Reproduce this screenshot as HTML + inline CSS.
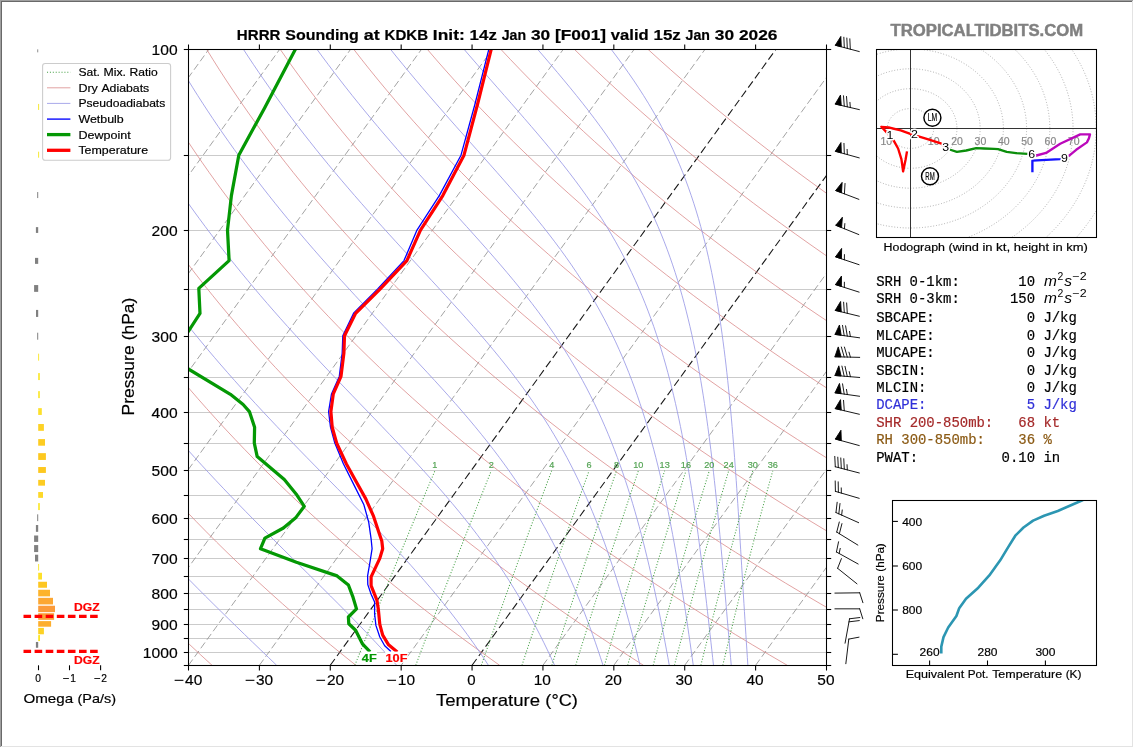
<!DOCTYPE html>
<html lang="en"><head><meta charset="utf-8"><title>HRRR Sounding at KDKB</title>
<style>html,body{margin:0;padding:0;background:#fff;}body{width:1134px;height:748px;overflow:hidden;font-family:"Liberation Sans",sans-serif;}svg{display:block;will-change:transform;}</style></head>
<body>
<svg width="1134" height="748" viewBox="0 0 1134 748" font-family="Liberation Sans, sans-serif">
<rect width="1134" height="748" fill="#fff"/>
<rect x="0" y="0" width="1133" height="1" fill="#a0a0a0"/><rect x="0" y="0" width="1" height="747" fill="#a0a0a0"/>
<rect x="1" y="1" width="1131" height="1" fill="#696969"/><rect x="1" y="1" width="1" height="745" fill="#696969"/>
<rect x="1132" y="1" width="1" height="746" fill="#e3e3e3"/><rect x="1" y="746" width="1132" height="1" fill="#e3e3e3"/>
<defs><clipPath id="ca"><rect x="188.5" y="49.5" width="638.0" height="616"/></clipPath><clipPath id="ch"><rect x="876.5" y="49.5" width="220" height="188"/></clipPath><clipPath id="ct"><rect x="892.5" y="500.5" width="204" height="165"/></clipPath></defs>
<g clip-path="url(#ca)">
<line x1="188.5" y1="155.5" x2="826.5" y2="155.5" stroke="#cbcbcb" stroke-width="1"/>
<line x1="188.5" y1="230.5" x2="826.5" y2="230.5" stroke="#cbcbcb" stroke-width="1"/>
<line x1="188.5" y1="289.5" x2="826.5" y2="289.5" stroke="#cbcbcb" stroke-width="1"/>
<line x1="188.5" y1="336.5" x2="826.5" y2="336.5" stroke="#cbcbcb" stroke-width="1"/>
<line x1="188.5" y1="377.5" x2="826.5" y2="377.5" stroke="#cbcbcb" stroke-width="1"/>
<line x1="188.5" y1="412.5" x2="826.5" y2="412.5" stroke="#cbcbcb" stroke-width="1"/>
<line x1="188.5" y1="443.5" x2="826.5" y2="443.5" stroke="#cbcbcb" stroke-width="1"/>
<line x1="188.5" y1="470.5" x2="826.5" y2="470.5" stroke="#cbcbcb" stroke-width="1"/>
<line x1="188.5" y1="495.5" x2="826.5" y2="495.5" stroke="#cbcbcb" stroke-width="1"/>
<line x1="188.5" y1="518.5" x2="826.5" y2="518.5" stroke="#cbcbcb" stroke-width="1"/>
<line x1="188.5" y1="539.5" x2="826.5" y2="539.5" stroke="#cbcbcb" stroke-width="1"/>
<line x1="188.5" y1="558.5" x2="826.5" y2="558.5" stroke="#cbcbcb" stroke-width="1"/>
<line x1="188.5" y1="576.5" x2="826.5" y2="576.5" stroke="#cbcbcb" stroke-width="1"/>
<line x1="188.5" y1="593.5" x2="826.5" y2="593.5" stroke="#cbcbcb" stroke-width="1"/>
<line x1="188.5" y1="609.5" x2="826.5" y2="609.5" stroke="#cbcbcb" stroke-width="1"/>
<line x1="188.5" y1="624.5" x2="826.5" y2="624.5" stroke="#cbcbcb" stroke-width="1"/>
<line x1="188.5" y1="638.5" x2="826.5" y2="638.5" stroke="#cbcbcb" stroke-width="1"/>
<line x1="188.5" y1="652.5" x2="826.5" y2="652.5" stroke="#cbcbcb" stroke-width="1"/>
<line x1="-307.72" y1="665.3" x2="137.95" y2="49.3" stroke="#8c8c8c" stroke-width="0.8" stroke-dasharray="7.2 3.3"/>
<line x1="-236.83" y1="665.3" x2="208.84" y2="49.3" stroke="#8c8c8c" stroke-width="0.8" stroke-dasharray="7.2 3.3"/>
<line x1="-165.94" y1="665.3" x2="279.73" y2="49.3" stroke="#8c8c8c" stroke-width="0.8" stroke-dasharray="7.2 3.3"/>
<line x1="-95.06" y1="665.3" x2="350.62" y2="49.3" stroke="#8c8c8c" stroke-width="0.8" stroke-dasharray="7.2 3.3"/>
<line x1="-24.17" y1="665.3" x2="421.51" y2="49.3" stroke="#8c8c8c" stroke-width="0.8" stroke-dasharray="7.2 3.3"/>
<line x1="46.72" y1="665.3" x2="492.4" y2="49.3" stroke="#8c8c8c" stroke-width="0.8" stroke-dasharray="7.2 3.3"/>
<line x1="117.61" y1="665.3" x2="563.29" y2="49.3" stroke="#8c8c8c" stroke-width="0.8" stroke-dasharray="7.2 3.3"/>
<line x1="188.5" y1="665.3" x2="634.18" y2="49.3" stroke="#8c8c8c" stroke-width="0.8" stroke-dasharray="7.2 3.3"/>
<line x1="259.39" y1="665.3" x2="705.06" y2="49.3" stroke="#8c8c8c" stroke-width="0.8" stroke-dasharray="7.2 3.3"/>
<line x1="330.28" y1="665.3" x2="775.95" y2="49.3" stroke="#1a1a1a" stroke-width="1.1" stroke-dasharray="7.8 3.7"/>
<line x1="401.17" y1="665.3" x2="846.84" y2="49.3" stroke="#8c8c8c" stroke-width="0.8" stroke-dasharray="7.2 3.3"/>
<line x1="472.06" y1="665.3" x2="917.73" y2="49.3" stroke="#1a1a1a" stroke-width="1.1" stroke-dasharray="7.8 3.7"/>
<line x1="542.94" y1="665.3" x2="988.62" y2="49.3" stroke="#8c8c8c" stroke-width="0.8" stroke-dasharray="7.2 3.3"/>
<line x1="613.83" y1="665.3" x2="1059.51" y2="49.3" stroke="#8c8c8c" stroke-width="0.8" stroke-dasharray="7.2 3.3"/>
<line x1="684.72" y1="665.3" x2="1130.4" y2="49.3" stroke="#8c8c8c" stroke-width="0.8" stroke-dasharray="7.2 3.3"/>
<line x1="755.61" y1="665.3" x2="1201.29" y2="49.3" stroke="#8c8c8c" stroke-width="0.8" stroke-dasharray="7.2 3.3"/>
<line x1="826.5" y1="665.3" x2="1272.18" y2="49.3" stroke="#8c8c8c" stroke-width="0.8" stroke-dasharray="7.2 3.3"/>
<path d="M212.05 665.3 L200.85 655.03 L189.86 644.77 L179.08 634.5 L168.49 624.23 L158.11 613.97 L147.92 603.7 L137.93 593.43 L128.14 583.17 L118.53 572.9 L109.12 562.63 L99.89 552.37 L90.84 542.1 L81.98 531.83 L73.3 521.57 L64.8 511.3 L56.48 501.03 L48.33 490.77 L40.36 480.5 L32.55 470.23 L24.92 459.97 L17.45 449.7 L10.15 439.43 L3.01 429.17 L-3.97 418.9 L-10.78 408.63 L-17.44 398.37 L-23.95 388.1 L-30.29 377.83 L-36.49 367.57 L-42.53 357.3 L-48.42 347.03 L-54.17 336.77 L-59.77 326.5 L-65.22 316.23 L-70.53 305.97 L-75.7 295.7 L-80.73 285.43 L-85.62 275.17 L-90.37 264.9 L-94.99 254.63 L-99.48 244.37 L-103.83 234.1 L-108.05 223.83 L-112.14 213.57 L-116.11 203.3 L-119.94 193.03 L-123.66 182.77 L-127.25 172.5 L-130.71 162.23 L-134.06 151.97 L-137.28 141.7 L-140.39 131.43 L-143.38 121.17 L-146.25 110.9 L-149.01 100.63 L-151.66 90.37 L-154.19 80.1 L-156.62 69.83 L-158.93 59.57 L-161.14 49.3" stroke="#d88484" stroke-width="0.75" fill="none"/>
<path d="M355.85 665.3 L343.05 655.03 L330.48 644.77 L318.13 634.5 L306 624.23 L294.09 613.97 L282.4 603.7 L270.91 593.43 L259.64 583.17 L248.57 572.9 L237.71 562.63 L227.05 552.37 L216.6 542.1 L206.34 531.83 L196.28 521.57 L186.41 511.3 L176.74 501.03 L167.25 490.77 L157.96 480.5 L148.85 470.23 L139.92 459.97 L131.17 449.7 L122.61 439.43 L114.22 429.17 L106.01 418.9 L97.97 408.63 L90.1 398.37 L82.4 388.1 L74.88 377.83 L67.51 367.57 L60.32 357.3 L53.28 347.03 L46.4 336.77 L39.69 326.5 L33.13 316.23 L26.73 305.97 L20.48 295.7 L14.38 285.43 L8.43 275.17 L2.63 264.9 L-3.02 254.63 L-8.53 244.37 L-13.89 234.1 L-19.11 223.83 L-24.19 213.57 L-29.13 203.3 L-33.94 193.03 L-38.6 182.77 L-43.14 172.5 L-47.54 162.23 L-51.81 151.97 L-55.95 141.7 L-59.96 131.43 L-63.84 121.17 L-67.6 110.9 L-71.23 100.63 L-74.74 90.37 L-78.13 80.1 L-81.4 69.83 L-84.55 59.57 L-87.58 49.3" stroke="#d88484" stroke-width="0.75" fill="none"/>
<path d="M499.64 665.3 L485.25 655.03 L471.1 644.77 L457.19 634.5 L443.52 624.23 L430.08 613.97 L416.87 603.7 L403.89 593.43 L391.14 583.17 L378.61 572.9 L366.31 562.63 L354.22 552.37 L342.35 542.1 L330.7 531.83 L319.26 521.57 L308.02 511.3 L297 501.03 L286.18 490.77 L275.56 480.5 L265.14 470.23 L254.92 459.97 L244.9 449.7 L235.07 439.43 L225.43 429.17 L215.98 418.9 L206.72 408.63 L197.65 398.37 L188.75 388.1 L180.04 377.83 L171.51 367.57 L163.16 357.3 L154.98 347.03 L146.98 336.77 L139.14 326.5 L131.48 316.23 L123.98 305.97 L116.65 295.7 L109.49 285.43 L102.48 275.17 L95.64 264.9 L88.95 254.63 L82.42 244.37 L76.05 234.1 L69.83 223.83 L63.76 213.57 L57.84 203.3 L52.07 193.03 L46.45 182.77 L40.97 172.5 L35.64 162.23 L30.44 151.97 L25.39 141.7 L20.47 131.43 L15.7 121.17 L11.06 110.9 L6.55 100.63 L2.17 90.37 L-2.07 80.1 L-6.19 69.83 L-10.17 59.57 L-14.03 49.3" stroke="#d88484" stroke-width="0.75" fill="none"/>
<path d="M643.44 665.3 L627.45 655.03 L611.72 644.77 L596.25 634.5 L581.03 624.23 L566.06 613.97 L551.34 603.7 L536.87 593.43 L522.64 583.17 L508.66 572.9 L494.9 562.63 L481.39 552.37 L468.11 542.1 L455.06 531.83 L442.23 521.57 L429.63 511.3 L417.25 501.03 L405.1 490.77 L393.16 480.5 L381.43 470.23 L369.92 459.97 L358.62 449.7 L347.53 439.43 L336.64 429.17 L325.96 418.9 L315.47 408.63 L305.19 398.37 L295.1 388.1 L285.21 377.83 L275.51 367.57 L266 357.3 L256.68 347.03 L247.55 336.77 L238.6 326.5 L229.83 316.23 L221.24 305.97 L212.83 295.7 L204.59 285.43 L196.53 275.17 L188.64 264.9 L180.92 254.63 L173.37 244.37 L165.99 234.1 L158.77 223.83 L151.71 213.57 L144.82 203.3 L138.08 193.03 L131.5 182.77 L125.08 172.5 L118.81 162.23 L112.69 151.97 L106.72 141.7 L100.91 131.43 L95.24 121.17 L89.71 110.9 L84.33 100.63 L79.09 90.37 L73.99 80.1 L69.03 69.83 L64.21 59.57 L59.52 49.3" stroke="#d88484" stroke-width="0.75" fill="none"/>
<path d="M787.24 665.3 L769.65 655.03 L752.34 644.77 L735.31 634.5 L718.54 624.23 L702.05 613.97 L685.82 603.7 L669.85 593.43 L654.15 583.17 L638.7 572.9 L623.5 562.63 L608.56 552.37 L593.86 542.1 L579.41 531.83 L565.21 521.57 L551.24 511.3 L537.51 501.03 L524.02 490.77 L510.76 480.5 L497.73 470.23 L484.92 459.97 L472.34 449.7 L459.99 439.43 L447.85 429.17 L435.93 418.9 L424.23 408.63 L412.74 398.37 L401.45 388.1 L390.38 377.83 L379.51 367.57 L368.85 357.3 L358.38 347.03 L348.12 336.77 L338.05 326.5 L328.18 316.23 L318.5 305.97 L309 295.7 L299.7 285.43 L290.58 275.17 L281.65 264.9 L272.9 254.63 L264.32 244.37 L255.93 234.1 L247.71 223.83 L239.67 213.57 L231.79 203.3 L224.09 193.03 L216.56 182.77 L209.19 172.5 L201.98 162.23 L194.94 151.97 L188.06 141.7 L181.34 131.43 L174.77 121.17 L168.36 110.9 L162.11 100.63 L156.01 90.37 L150.05 80.1 L144.25 69.83 L138.59 59.57 L133.08 49.3" stroke="#d88484" stroke-width="0.75" fill="none"/>
<path d="M931.04 665.3 L911.85 655.03 L892.96 644.77 L874.36 634.5 L856.06 624.23 L838.03 613.97 L820.29 603.7 L802.83 593.43 L785.65 583.17 L768.74 572.9 L752.1 562.63 L735.72 552.37 L719.62 542.1 L703.77 531.83 L688.18 521.57 L672.85 511.3 L657.77 501.03 L642.94 490.77 L628.36 480.5 L614.02 470.23 L599.93 459.97 L586.07 449.7 L572.45 439.43 L559.06 429.17 L545.91 418.9 L532.98 408.63 L520.28 398.37 L507.8 388.1 L495.55 377.83 L483.51 367.57 L471.69 357.3 L460.09 347.03 L448.69 336.77 L437.51 326.5 L426.53 316.23 L415.75 305.97 L405.18 295.7 L394.81 285.43 L384.63 275.17 L374.65 264.9 L364.87 254.63 L355.27 244.37 L345.87 234.1 L336.65 223.83 L327.62 213.57 L318.77 203.3 L310.1 193.03 L301.61 182.77 L293.29 172.5 L285.16 162.23 L277.19 151.97 L269.4 141.7 L261.77 131.43 L254.31 121.17 L247.02 110.9 L239.89 100.63 L232.92 90.37 L226.11 80.1 L219.46 69.83 L212.97 59.57 L206.63 49.3" stroke="#d88484" stroke-width="0.75" fill="none"/>
<path d="M1074.84 665.3 L1054.05 655.03 L1033.58 644.77 L1013.42 634.5 L993.57 624.23 L974.02 613.97 L954.77 603.7 L935.81 593.43 L917.15 583.17 L898.78 572.9 L880.69 562.63 L862.89 552.37 L845.37 542.1 L828.13 531.83 L811.16 521.57 L794.46 511.3 L778.03 501.03 L761.86 490.77 L745.96 480.5 L730.31 470.23 L714.93 459.97 L699.79 449.7 L684.91 439.43 L670.27 429.17 L655.88 418.9 L641.73 408.63 L627.83 398.37 L614.15 388.1 L600.72 377.83 L587.51 367.57 L574.54 357.3 L561.79 347.03 L549.26 336.77 L536.96 326.5 L524.88 316.23 L513.01 305.97 L501.36 295.7 L489.91 285.43 L478.68 275.17 L467.66 264.9 L456.84 254.63 L446.22 244.37 L435.81 234.1 L425.59 223.83 L415.57 213.57 L405.74 203.3 L396.11 193.03 L386.66 182.77 L377.4 172.5 L368.33 162.23 L359.44 151.97 L350.73 141.7 L342.2 131.43 L333.85 121.17 L325.67 110.9 L317.67 100.63 L309.84 90.37 L302.18 80.1 L294.68 69.83 L287.35 59.57 L280.19 49.3" stroke="#d88484" stroke-width="0.75" fill="none"/>
<path d="M1218.63 665.3 L1196.25 655.03 L1174.2 644.77 L1152.48 634.5 L1131.08 624.23 L1110 613.97 L1089.24 603.7 L1068.79 593.43 L1048.65 583.17 L1028.82 572.9 L1009.29 562.63 L990.06 552.37 L971.13 542.1 L952.48 531.83 L934.13 521.57 L916.07 511.3 L898.29 501.03 L880.78 490.77 L863.56 480.5 L846.61 470.23 L829.93 459.97 L813.52 449.7 L797.37 439.43 L781.48 429.17 L765.86 418.9 L750.49 408.63 L735.37 398.37 L720.5 388.1 L705.89 377.83 L691.51 367.57 L677.38 357.3 L663.49 347.03 L649.83 336.77 L636.41 326.5 L623.22 316.23 L610.26 305.97 L597.53 295.7 L585.02 285.43 L572.73 275.17 L560.67 264.9 L548.81 254.63 L537.17 244.37 L525.75 234.1 L514.53 223.83 L503.52 213.57 L492.72 203.3 L482.12 193.03 L471.71 182.77 L461.51 172.5 L451.5 162.23 L441.69 151.97 L432.07 141.7 L422.63 131.43 L413.39 121.17 L404.33 110.9 L395.45 100.63 L386.75 90.37 L378.24 80.1 L369.9 69.83 L361.73 59.57 L353.74 49.3" stroke="#d88484" stroke-width="0.75" fill="none"/>
<path d="M1362.43 665.3 L1338.45 655.03 L1314.82 644.77 L1291.54 634.5 L1268.59 624.23 L1245.99 613.97 L1223.71 603.7 L1201.77 593.43 L1180.15 583.17 L1158.86 572.9 L1137.89 562.63 L1117.23 552.37 L1096.88 542.1 L1076.84 531.83 L1057.11 521.57 L1037.68 511.3 L1018.54 501.03 L999.71 490.77 L981.16 480.5 L962.9 470.23 L944.93 459.97 L927.24 449.7 L909.83 439.43 L892.7 429.17 L875.83 418.9 L859.24 408.63 L842.92 398.37 L826.85 388.1 L811.05 377.83 L795.51 367.57 L780.23 357.3 L765.19 347.03 L750.41 336.77 L735.87 326.5 L721.57 316.23 L707.52 305.97 L693.71 295.7 L680.13 285.43 L666.78 275.17 L653.67 264.9 L640.79 254.63 L628.13 244.37 L615.69 234.1 L603.47 223.83 L591.47 213.57 L579.69 203.3 L568.12 193.03 L556.77 182.77 L545.62 172.5 L534.68 162.23 L523.94 151.97 L513.4 141.7 L503.06 131.43 L492.93 121.17 L482.98 110.9 L473.23 100.63 L463.67 90.37 L454.3 80.1 L445.11 69.83 L436.11 59.57 L427.3 49.3" stroke="#d88484" stroke-width="0.75" fill="none"/>
<path d="M1506.23 665.3 L1480.65 655.03 L1455.44 644.77 L1430.6 634.5 L1406.11 624.23 L1381.97 613.97 L1358.19 603.7 L1334.75 593.43 L1311.66 583.17 L1288.9 572.9 L1266.48 562.63 L1244.39 552.37 L1222.63 542.1 L1201.2 531.83 L1180.08 521.57 L1159.29 511.3 L1138.8 501.03 L1118.63 490.77 L1098.76 480.5 L1079.2 470.23 L1059.93 459.97 L1040.96 449.7 L1022.29 439.43 L1003.91 429.17 L985.81 418.9 L967.99 408.63 L950.46 398.37 L933.21 388.1 L916.22 377.83 L899.51 367.57 L883.07 357.3 L866.89 347.03 L850.98 336.77 L835.32 326.5 L819.92 316.23 L804.78 305.97 L789.88 295.7 L775.24 285.43 L760.84 275.17 L746.68 264.9 L732.76 254.63 L719.08 244.37 L705.63 234.1 L692.41 223.83 L679.43 213.57 L666.67 203.3 L654.13 193.03 L641.82 182.77 L629.73 172.5 L617.85 162.23 L606.19 151.97 L594.74 141.7 L583.5 131.43 L572.46 121.17 L561.64 110.9 L551.01 100.63 L540.59 90.37 L530.36 80.1 L520.33 69.83 L510.49 59.57 L500.85 49.3" stroke="#d88484" stroke-width="0.75" fill="none"/>
<path d="M1650.03 665.3 L1622.85 655.03 L1596.06 644.77 L1569.65 634.5 L1543.62 624.23 L1517.96 613.97 L1492.66 603.7 L1467.73 593.43 L1443.16 583.17 L1418.94 572.9 L1395.08 562.63 L1371.56 552.37 L1348.39 542.1 L1325.56 531.83 L1303.06 521.57 L1280.9 511.3 L1259.06 501.03 L1237.55 490.77 L1216.36 480.5 L1195.49 470.23 L1174.93 459.97 L1154.69 449.7 L1134.75 439.43 L1115.12 429.17 L1095.78 418.9 L1076.75 408.63 L1058.01 398.37 L1039.56 388.1 L1021.39 377.83 L1003.51 367.57 L985.91 357.3 L968.59 347.03 L951.55 336.77 L934.78 326.5 L918.27 316.23 L902.03 305.97 L886.06 295.7 L870.34 285.43 L854.89 275.17 L839.68 264.9 L824.73 254.63 L810.03 244.37 L795.57 234.1 L781.35 223.83 L767.38 213.57 L753.64 203.3 L740.14 193.03 L726.87 182.77 L713.83 172.5 L701.02 162.23 L688.44 151.97 L676.07 141.7 L663.93 131.43 L652 121.17 L640.29 110.9 L628.79 100.63 L617.5 90.37 L606.42 80.1 L595.55 69.83 L584.87 59.57 L574.4 49.3" stroke="#d88484" stroke-width="0.75" fill="none"/>
<path d="M1793.83 665.3 L1765.05 655.03 L1736.68 644.77 L1708.71 634.5 L1681.13 624.23 L1653.94 613.97 L1627.14 603.7 L1600.71 593.43 L1574.66 583.17 L1548.98 572.9 L1523.68 562.63 L1498.73 552.37 L1474.14 542.1 L1449.91 531.83 L1426.04 521.57 L1402.5 511.3 L1379.32 501.03 L1356.47 490.77 L1333.96 480.5 L1311.78 470.23 L1289.94 459.97 L1268.41 449.7 L1247.21 439.43 L1226.33 429.17 L1205.76 418.9 L1185.5 408.63 L1165.55 398.37 L1145.91 388.1 L1126.56 377.83 L1107.51 367.57 L1088.76 357.3 L1070.3 347.03 L1052.12 336.77 L1034.23 326.5 L1016.62 316.23 L999.29 305.97 L982.23 295.7 L965.45 285.43 L948.94 275.17 L932.69 264.9 L916.7 254.63 L900.98 244.37 L885.51 234.1 L870.29 223.83 L855.33 213.57 L840.62 203.3 L826.15 193.03 L811.93 182.77 L797.94 172.5 L784.2 162.23 L770.69 151.97 L757.41 141.7 L744.36 131.43 L731.54 121.17 L718.94 110.9 L706.57 100.63 L694.42 90.37 L682.48 80.1 L670.76 69.83 L659.26 59.57 L647.96 49.3" stroke="#d88484" stroke-width="0.75" fill="none"/>
<path d="M-124.36 49.3 L-122.41 57 L-120.39 64.7 L-118.31 72.4 L-116.16 80.1 L-113.95 87.8 L-111.68 95.5 L-109.34 103.2 L-106.93 110.9 L-104.45 118.6 L-101.91 126.3 L-99.3 134 L-96.62 141.7 L-93.87 149.4 L-91.05 157.1 L-88.16 164.8 L-85.2 172.5 L-82.16 180.2 L-79.06 187.9 L-75.88 195.6 L-72.63 203.3 L-69.3 211 L-65.9 218.7 L-62.42 226.4 L-58.87 234.1 L-55.24 241.8 L-51.53 249.5 L-47.75 257.2 L-43.88 264.9 L-39.94 272.6 L-35.91 280.3 L-31.81 288 L-27.62 295.7 L-23.36 303.4 L-19.01 311.1 L-14.57 318.8 L-10.05 326.5 L-5.45 334.2 L-0.76 341.9 L4.01 349.6 L8.87 357.3 L13.82 365 L18.86 372.7 L23.99 380.4 L29.2 388.1 L34.51 395.8 L39.91 403.5 L45.4 411.2 L50.98 418.9 L56.66 426.6 L62.43 434.3 L68.29 442 L74.25 449.7 L80.3 457.4 L86.45 465.1 L92.7 472.8 L99.04 480.5 L105.48 488.2 L112.01 495.9 L118.64 503.6 L125.37 511.3 L132.19 519 L139.11 526.7 L146.12 534.4 L153.22 542.1 L160.42 549.8 L167.7 557.5 L175.07 565.2 L182.52 572.9 L190.06 580.6 L197.67 588.3 L205.35 596 L213.1 603.7 L220.91 611.4 L228.78 619.1 L236.69 626.8 L244.64 634.5 L252.62 642.2 L260.62 649.9 L268.64 657.6 L276.65 665.3" stroke="#9a9ae6" stroke-width="0.85" fill="none"/>
<path d="M-50.81 49.3 L-48.23 57 L-45.59 64.7 L-42.88 72.4 L-40.1 80.1 L-37.25 87.8 L-34.33 95.5 L-31.34 103.2 L-28.27 110.9 L-25.14 118.6 L-21.93 126.3 L-18.64 134 L-15.28 141.7 L-11.85 149.4 L-8.34 157.1 L-4.75 164.8 L-1.09 172.5 L2.65 180.2 L6.47 187.9 L10.37 195.6 L14.35 203.3 L18.41 211 L22.55 218.7 L26.77 226.4 L31.07 234.1 L35.46 241.8 L39.93 249.5 L44.48 257.2 L49.12 264.9 L53.85 272.6 L58.66 280.3 L63.56 288 L68.55 295.7 L73.62 303.4 L78.79 311.1 L84.04 318.8 L89.39 326.5 L94.83 334.2 L100.36 341.9 L105.98 349.6 L111.69 357.3 L117.5 365 L123.4 372.7 L129.4 380.4 L135.49 388.1 L141.68 395.8 L147.96 403.5 L154.34 411.2 L160.81 418.9 L167.38 426.6 L174.04 434.3 L180.79 442 L187.64 449.7 L194.58 457.4 L201.6 465.1 L208.72 472.8 L215.92 480.5 L223.2 488.2 L230.56 495.9 L238 503.6 L245.5 511.3 L253.07 519 L260.69 526.7 L268.36 534.4 L276.08 542.1 L283.83 549.8 L291.61 557.5 L299.4 565.2 L307.19 572.9 L314.98 580.6 L322.74 588.3 L330.48 596 L338.17 603.7 L345.8 611.4 L353.36 619.1 L360.85 626.8 L368.24 634.5 L375.53 642.2 L382.71 649.9 L389.76 657.6 L396.69 665.3" stroke="#9a9ae6" stroke-width="0.85" fill="none"/>
<path d="M22.75 49.3 L25.94 57 L29.2 64.7 L32.54 72.4 L35.96 80.1 L39.45 87.8 L43.01 95.5 L46.66 103.2 L50.38 110.9 L54.18 118.6 L58.06 126.3 L62.01 134 L66.05 141.7 L70.17 149.4 L74.37 157.1 L78.65 164.8 L83.02 172.5 L87.47 180.2 L92 187.9 L96.62 195.6 L101.32 203.3 L106.11 211 L110.99 218.7 L115.95 226.4 L121 234.1 L126.15 241.8 L131.38 249.5 L136.7 257.2 L142.11 264.9 L147.62 272.6 L153.21 280.3 L158.9 288 L164.68 295.7 L170.56 303.4 L176.53 311.1 L182.59 318.8 L188.75 326.5 L195 334.2 L201.35 341.9 L207.79 349.6 L214.32 357.3 L220.94 365 L227.66 372.7 L234.46 380.4 L241.35 388.1 L248.33 395.8 L255.39 403.5 L262.53 411.2 L269.75 418.9 L277.03 426.6 L284.39 434.3 L291.8 442 L299.26 449.7 L306.77 457.4 L314.32 465.1 L321.9 472.8 L329.49 480.5 L337.09 488.2 L344.68 495.9 L352.26 503.6 L359.8 511.3 L367.31 519 L374.76 526.7 L382.14 534.4 L389.44 542.1 L396.64 549.8 L403.74 557.5 L410.73 565.2 L417.59 572.9 L424.32 580.6 L430.91 588.3 L437.35 596 L443.65 603.7 L449.79 611.4 L455.77 619.1 L461.6 626.8 L467.28 634.5 L472.79 642.2 L478.16 649.9 L483.37 657.6 L488.44 665.3" stroke="#9a9ae6" stroke-width="0.85" fill="none"/>
<path d="M96.3 49.3 L100.11 57 L104 64.7 L107.97 72.4 L112.02 80.1 L116.15 87.8 L120.36 95.5 L124.66 103.2 L129.03 110.9 L133.49 118.6 L138.04 126.3 L142.67 134 L147.38 141.7 L152.19 149.4 L157.08 157.1 L162.05 164.8 L167.12 172.5 L172.27 180.2 L177.52 187.9 L182.85 195.6 L188.28 203.3 L193.79 211 L199.4 218.7 L205.1 226.4 L210.89 234.1 L216.78 241.8 L222.76 249.5 L228.83 257.2 L235 264.9 L241.26 272.6 L247.61 280.3 L254.05 288 L260.58 295.7 L267.2 303.4 L273.91 311.1 L280.71 318.8 L287.58 326.5 L294.54 334.2 L301.58 341.9 L308.68 349.6 L315.85 357.3 L323.08 365 L330.37 372.7 L337.7 380.4 L345.07 388.1 L352.47 395.8 L359.89 403.5 L367.32 411.2 L374.74 418.9 L382.14 426.6 L389.51 434.3 L396.84 442 L404.11 449.7 L411.31 457.4 L418.43 465.1 L425.45 472.8 L432.37 480.5 L439.16 488.2 L445.83 495.9 L452.36 503.6 L458.74 511.3 L464.97 519 L471.05 526.7 L476.96 534.4 L482.72 542.1 L488.31 549.8 L493.74 557.5 L499.01 565.2 L504.12 572.9 L509.08 580.6 L513.88 588.3 L518.54 596 L523.05 603.7 L527.42 611.4 L531.66 619.1 L535.77 626.8 L539.75 634.5 L543.62 642.2 L547.37 649.9 L551.01 657.6 L554.55 665.3" stroke="#9a9ae6" stroke-width="0.85" fill="none"/>
<path d="M169.86 49.3 L174.28 57 L178.8 64.7 L183.4 72.4 L188.08 80.1 L192.85 87.8 L197.7 95.5 L202.65 103.2 L207.68 110.9 L212.8 118.6 L218.01 126.3 L223.31 134 L228.7 141.7 L234.18 149.4 L239.75 157.1 L245.42 164.8 L251.17 172.5 L257.02 180.2 L262.96 187.9 L268.99 195.6 L275.12 203.3 L281.33 211 L287.64 218.7 L294.03 226.4 L300.52 234.1 L307.09 241.8 L313.75 249.5 L320.49 257.2 L327.3 264.9 L334.2 272.6 L341.16 280.3 L348.19 288 L355.28 295.7 L362.42 303.4 L369.6 311.1 L376.82 318.8 L384.07 326.5 L391.33 334.2 L398.6 341.9 L405.86 349.6 L413.1 357.3 L420.3 365 L427.46 372.7 L434.55 380.4 L441.57 388.1 L448.5 395.8 L455.32 403.5 L462.03 411.2 L468.61 418.9 L475.05 426.6 L481.35 434.3 L487.5 442 L493.49 449.7 L499.32 457.4 L504.98 465.1 L510.48 472.8 L515.8 480.5 L520.96 488.2 L525.96 495.9 L530.79 503.6 L535.47 511.3 L539.98 519 L544.35 526.7 L548.57 534.4 L552.65 542.1 L556.6 549.8 L560.41 557.5 L564.1 565.2 L567.67 572.9 L571.13 580.6 L574.47 588.3 L577.72 596 L580.86 603.7 L583.91 611.4 L586.87 619.1 L589.75 626.8 L592.55 634.5 L595.27 642.2 L597.92 649.9 L600.5 657.6 L603.02 665.3" stroke="#9a9ae6" stroke-width="0.85" fill="none"/>
<path d="M243.41 49.3 L248.46 57 L253.59 64.7 L258.81 72.4 L264.13 80.1 L269.53 87.8 L275.03 95.5 L280.61 103.2 L286.29 110.9 L292.06 118.6 L297.92 126.3 L303.87 134 L309.91 141.7 L316.04 149.4 L322.26 157.1 L328.57 164.8 L334.97 172.5 L341.45 180.2 L348.02 187.9 L354.66 195.6 L361.38 203.3 L368.18 211 L375.04 218.7 L381.97 226.4 L388.95 234.1 L395.97 241.8 L403.04 249.5 L410.14 257.2 L417.26 264.9 L424.38 272.6 L431.5 280.3 L438.61 288 L445.68 295.7 L452.71 303.4 L459.68 311.1 L466.57 318.8 L473.38 326.5 L480.08 334.2 L486.67 341.9 L493.14 349.6 L499.46 357.3 L505.64 365 L511.66 372.7 L517.52 380.4 L523.22 388.1 L528.74 395.8 L534.1 403.5 L539.28 411.2 L544.29 418.9 L549.13 426.6 L553.8 434.3 L558.31 442 L562.66 449.7 L566.85 457.4 L570.89 465.1 L574.78 472.8 L578.54 480.5 L582.16 488.2 L585.66 495.9 L589.03 503.6 L592.28 511.3 L595.42 519 L598.45 526.7 L601.38 534.4 L604.22 542.1 L606.97 549.8 L609.62 557.5 L612.2 565.2 L614.7 572.9 L617.12 580.6 L619.48 588.3 L621.77 596 L624 603.7 L626.17 611.4 L628.28 619.1 L630.35 626.8 L632.36 634.5 L634.33 642.2 L636.26 649.9 L638.15 657.6 L640 665.3" stroke="#9a9ae6" stroke-width="0.85" fill="none"/>
<path d="M316.96 49.3 L322.62 57 L328.36 64.7 L334.19 72.4 L340.12 80.1 L346.13 87.8 L352.23 95.5 L358.42 103.2 L364.7 110.9 L371.06 118.6 L377.51 126.3 L384.03 134 L390.63 141.7 L397.3 149.4 L404.04 157.1 L410.84 164.8 L417.7 172.5 L424.6 180.2 L431.54 187.9 L438.51 195.6 L445.5 203.3 L452.5 211 L459.49 218.7 L466.46 226.4 L473.39 234.1 L480.28 241.8 L487.11 249.5 L493.85 257.2 L500.51 264.9 L507.05 272.6 L513.48 280.3 L519.77 288 L525.92 295.7 L531.92 303.4 L537.76 311.1 L543.43 318.8 L548.93 326.5 L554.25 334.2 L559.4 341.9 L564.37 349.6 L569.16 357.3 L573.79 365 L578.24 372.7 L582.52 380.4 L586.64 388.1 L590.6 395.8 L594.41 403.5 L598.08 411.2 L601.6 418.9 L604.99 426.6 L608.25 434.3 L611.38 442 L614.4 449.7 L617.3 457.4 L620.1 465.1 L622.8 472.8 L625.4 480.5 L627.91 488.2 L630.33 495.9 L632.67 503.6 L634.93 511.3 L637.12 519 L639.25 526.7 L641.3 534.4 L643.3 542.1 L645.23 549.8 L647.11 557.5 L648.94 565.2 L650.73 572.9 L652.46 580.6 L654.16 588.3 L655.81 596 L657.43 603.7 L659.01 611.4 L660.56 619.1 L662.08 626.8 L663.57 634.5 L665.03 642.2 L666.47 649.9 L667.89 657.6 L669.29 665.3" stroke="#9a9ae6" stroke-width="0.85" fill="none"/>
<path d="M390.52 49.3 L396.73 57 L403.03 64.7 L409.41 72.4 L415.86 80.1 L422.39 87.8 L428.99 95.5 L435.65 103.2 L442.37 110.9 L449.14 118.6 L455.95 126.3 L462.79 134 L469.65 141.7 L476.53 149.4 L483.4 157.1 L490.26 164.8 L497.08 172.5 L503.87 180.2 L510.59 187.9 L517.24 195.6 L523.79 203.3 L530.24 211 L536.57 218.7 L542.77 226.4 L548.83 234.1 L554.73 241.8 L560.46 249.5 L566.03 257.2 L571.42 264.9 L576.64 272.6 L581.67 280.3 L586.52 288 L591.2 295.7 L595.69 303.4 L600.01 311.1 L604.16 318.8 L608.14 326.5 L611.96 334.2 L615.63 341.9 L619.14 349.6 L622.51 357.3 L625.74 365 L628.84 372.7 L631.81 380.4 L634.66 388.1 L637.4 395.8 L640.03 403.5 L642.55 411.2 L644.98 418.9 L647.31 426.6 L649.55 434.3 L651.71 442 L653.8 449.7 L655.8 457.4 L657.74 465.1 L659.61 472.8 L661.42 480.5 L663.17 488.2 L664.86 495.9 L666.5 503.6 L668.09 511.3 L669.64 519 L671.14 526.7 L672.6 534.4 L674.02 542.1 L675.4 549.8 L676.76 557.5 L678.08 565.2 L679.37 572.9 L680.63 580.6 L681.87 588.3 L683.09 596 L684.28 603.7 L685.46 611.4 L686.61 619.1 L687.75 626.8 L688.88 634.5 L689.99 642.2 L691.09 649.9 L692.18 657.6 L693.25 665.3" stroke="#9a9ae6" stroke-width="0.85" fill="none"/>
<path d="M464.07 49.3 L470.7 57 L477.37 64.7 L484.08 72.4 L490.82 80.1 L497.58 87.8 L504.34 95.5 L511.1 103.2 L517.83 110.9 L524.53 118.6 L531.18 126.3 L537.76 134 L544.26 141.7 L550.66 149.4 L556.95 157.1 L563.11 164.8 L569.13 172.5 L574.99 180.2 L580.7 187.9 L586.24 195.6 L591.6 203.3 L596.78 211 L601.77 218.7 L606.59 226.4 L611.21 234.1 L615.66 241.8 L619.92 249.5 L624.01 257.2 L627.93 264.9 L631.67 272.6 L635.26 280.3 L638.69 288 L641.97 295.7 L645.11 303.4 L648.11 311.1 L650.97 318.8 L653.72 326.5 L656.34 334.2 L658.85 341.9 L661.25 349.6 L663.55 357.3 L665.76 365 L667.87 372.7 L669.9 380.4 L671.84 388.1 L673.71 395.8 L675.5 403.5 L677.22 411.2 L678.88 418.9 L680.48 426.6 L682.02 434.3 L683.51 442 L684.94 449.7 L686.32 457.4 L687.66 465.1 L688.96 472.8 L690.22 480.5 L691.44 488.2 L692.62 495.9 L693.77 503.6 L694.89 511.3 L695.98 519 L697.05 526.7 L698.09 534.4 L699.11 542.1 L700.1 549.8 L701.08 557.5 L702.04 565.2 L702.98 572.9 L703.9 580.6 L704.82 588.3 L705.72 596 L706.61 603.7 L707.49 611.4 L708.36 619.1 L709.22 626.8 L710.08 634.5 L710.94 642.2 L711.79 649.9 L712.63 657.6 L713.48 665.3" stroke="#9a9ae6" stroke-width="0.85" fill="none"/>
<path d="M537.63 49.3 L544.25 57 L550.83 64.7 L557.36 72.4 L563.81 80.1 L570.18 87.8 L576.44 95.5 L582.58 103.2 L588.59 110.9 L594.46 118.6 L600.16 126.3 L605.7 134 L611.07 141.7 L616.25 149.4 L621.25 157.1 L626.06 164.8 L630.68 172.5 L635.11 180.2 L639.36 187.9 L643.42 195.6 L647.31 203.3 L651.02 211 L654.57 218.7 L657.95 226.4 L661.18 234.1 L664.25 241.8 L667.19 249.5 L669.98 257.2 L672.65 264.9 L675.19 272.6 L677.61 280.3 L679.92 288 L682.12 295.7 L684.22 303.4 L686.23 311.1 L688.14 318.8 L689.97 326.5 L691.72 334.2 L693.39 341.9 L694.99 349.6 L696.53 357.3 L697.99 365 L699.4 372.7 L700.75 380.4 L702.04 388.1 L703.29 395.8 L704.49 403.5 L705.64 411.2 L706.75 418.9 L707.82 426.6 L708.85 434.3 L709.85 442 L710.82 449.7 L711.75 457.4 L712.66 465.1 L713.54 472.8 L714.39 480.5 L715.23 488.2 L716.04 495.9 L716.83 503.6 L717.6 511.3 L718.36 519 L719.1 526.7 L719.83 534.4 L720.55 542.1 L721.25 549.8 L721.95 557.5 L722.63 565.2 L723.31 572.9 L723.99 580.6 L724.65 588.3 L725.32 596 L725.97 603.7 L726.63 611.4 L727.29 619.1 L727.94 626.8 L728.59 634.5 L729.25 642.2 L729.91 649.9 L730.57 657.6 L731.23 665.3" stroke="#9a9ae6" stroke-width="0.85" fill="none"/>
<path d="M611.18 49.3 L617 57 L622.66 64.7 L628.15 72.4 L633.47 80.1 L638.6 87.8 L643.55 95.5 L648.3 103.2 L652.87 110.9 L657.24 118.6 L661.42 126.3 L665.42 134 L669.23 141.7 L672.86 149.4 L676.32 157.1 L679.61 164.8 L682.74 172.5 L685.72 180.2 L688.55 187.9 L691.24 195.6 L693.79 203.3 L696.21 211 L698.52 218.7 L700.7 226.4 L702.78 234.1 L704.75 241.8 L706.63 249.5 L708.41 257.2 L710.1 264.9 L711.71 272.6 L713.24 280.3 L714.7 288 L716.09 295.7 L717.41 303.4 L718.66 311.1 L719.86 318.8 L721.01 326.5 L722.1 334.2 L723.14 341.9 L724.14 349.6 L725.09 357.3 L726 365 L726.87 372.7 L727.71 380.4 L728.51 388.1 L729.29 395.8 L730.03 403.5 L730.74 411.2 L731.43 418.9 L732.1 426.6 L732.74 434.3 L733.36 442 L733.96 449.7 L734.55 457.4 L735.12 465.1 L735.67 472.8 L736.22 480.5 L736.74 488.2 L737.26 495.9 L737.77 503.6 L738.27 511.3 L738.76 519 L739.25 526.7 L739.73 534.4 L740.2 542.1 L740.68 549.8 L741.15 557.5 L741.61 565.2 L742.08 572.9 L742.55 580.6 L743.01 588.3 L743.48 596 L743.95 603.7 L744.43 611.4 L744.9 619.1 L745.39 626.8 L745.87 634.5 L746.37 642.2 L746.86 649.9 L747.37 657.6 L747.88 665.3" stroke="#9a9ae6" stroke-width="0.85" fill="none"/>
<path d="M354.83 665.3 L358.72 655.57 L362.63 645.85 L366.54 636.12 L370.47 626.4 L374.41 616.67 L378.36 606.94 L382.32 597.22 L386.3 587.49 L390.29 577.77 L394.29 568.04 L398.3 558.31 L402.32 548.59 L406.35 538.86 L410.4 529.14 L414.45 519.41 L418.52 509.68 L422.6 499.96 L426.69 490.23 L430.79 480.5 L434.9 470.78" stroke="#46a046" stroke-width="1.05" fill="none" stroke-dasharray="1.05 1.85"/>
<path d="M415.75 665.3 L419.39 655.57 L423.06 645.85 L426.73 636.12 L430.42 626.4 L434.12 616.67 L437.84 606.94 L441.57 597.22 L445.31 587.49 L449.07 577.77 L452.84 568.04 L456.62 558.31 L460.42 548.59 L464.22 538.86 L468.04 529.14 L471.88 519.41 L475.72 509.68 L479.58 499.96 L483.45 490.23 L487.34 480.5 L491.23 470.78" stroke="#46a046" stroke-width="1.05" fill="none" stroke-dasharray="1.05 1.85"/>
<path d="M481.3 665.3 L484.67 655.57 L488.07 645.85 L491.47 636.12 L494.9 626.4 L498.34 616.67 L501.79 606.94 L505.26 597.22 L508.74 587.49 L512.24 577.77 L515.75 568.04 L519.28 558.31 L522.82 548.59 L526.38 538.86 L529.95 529.14 L533.53 519.41 L537.13 509.68 L540.74 499.96 L544.37 490.23 L548.01 480.5 L551.67 470.78" stroke="#46a046" stroke-width="1.05" fill="none" stroke-dasharray="1.05 1.85"/>
<path d="M521.95 665.3 L525.15 655.57 L528.37 645.85 L531.61 636.12 L534.86 626.4 L538.13 616.67 L541.42 606.94 L544.72 597.22 L548.04 587.49 L551.37 577.77 L554.72 568.04 L558.08 558.31 L561.46 548.59 L564.86 538.86 L568.27 529.14 L571.7 519.41 L575.14 509.68 L578.59 499.96 L582.06 490.23 L585.55 480.5 L589.05 470.78" stroke="#46a046" stroke-width="1.05" fill="none" stroke-dasharray="1.05 1.85"/>
<path d="M551.86 665.3 L554.94 655.57 L558.03 645.85 L561.14 636.12 L564.26 626.4 L567.41 616.67 L570.57 606.94 L573.74 597.22 L576.94 587.49 L580.15 577.77 L583.37 568.04 L586.62 558.31 L589.87 548.59 L593.15 538.86 L596.44 529.14 L599.75 519.41 L603.07 509.68 L606.41 499.96 L609.76 490.23 L613.13 480.5 L616.52 470.78" stroke="#46a046" stroke-width="1.05" fill="none" stroke-dasharray="1.05 1.85"/>
<path d="M575.7 665.3 L578.66 655.57 L581.65 645.85 L584.66 636.12 L587.68 626.4 L590.72 616.67 L593.78 606.94 L596.85 597.22 L599.95 587.49 L603.06 577.77 L606.18 568.04 L609.33 558.31 L612.49 548.59 L615.67 538.86 L618.86 529.14 L622.07 519.41 L625.3 509.68 L628.54 499.96 L631.8 490.23 L635.08 480.5 L638.37 470.78" stroke="#46a046" stroke-width="1.05" fill="none" stroke-dasharray="1.05 1.85"/>
<path d="M604.42 665.3 L607.26 655.57 L610.12 645.85 L613 636.12 L615.89 626.4 L618.81 616.67 L621.74 606.94 L624.7 597.22 L627.67 587.49 L630.65 577.77 L633.66 568.04 L636.68 558.31 L639.73 548.59 L642.78 538.86 L645.86 529.14 L648.96 519.41 L652.07 509.68 L655.19 499.96 L658.34 490.23 L661.5 480.5 L664.68 470.78" stroke="#46a046" stroke-width="1.05" fill="none" stroke-dasharray="1.05 1.85"/>
<path d="M627.69 665.3 L630.42 655.57 L633.18 645.85 L635.95 636.12 L638.74 626.4 L641.56 616.67 L644.39 606.94 L647.24 597.22 L650.11 587.49 L653 577.77 L655.9 568.04 L658.83 558.31 L661.77 548.59 L664.73 538.86 L667.71 529.14 L670.71 519.41 L673.73 509.68 L676.76 499.96 L679.81 490.23 L682.88 480.5 L685.97 470.78" stroke="#46a046" stroke-width="1.05" fill="none" stroke-dasharray="1.05 1.85"/>
<path d="M653.21 665.3 L655.83 655.57 L658.47 645.85 L661.12 636.12 L663.8 626.4 L666.5 616.67 L669.22 606.94 L671.96 597.22 L674.71 587.49 L677.49 577.77 L680.29 568.04 L683.1 558.31 L685.94 548.59 L688.79 538.86 L691.66 529.14 L694.56 519.41 L697.46 509.68 L700.39 499.96 L703.34 490.23 L706.3 480.5 L709.29 470.78" stroke="#46a046" stroke-width="1.05" fill="none" stroke-dasharray="1.05 1.85"/>
<path d="M674.45 665.3 L676.97 655.57 L679.51 645.85 L682.07 636.12 L684.65 626.4 L687.25 616.67 L689.87 606.94 L692.52 597.22 L695.18 587.49 L697.86 577.77 L700.57 568.04 L703.29 558.31 L706.03 548.59 L708.8 538.86 L711.58 529.14 L714.38 519.41 L717.2 509.68 L720.04 499.96 L722.9 490.23 L725.78 480.5 L728.67 470.78" stroke="#46a046" stroke-width="1.05" fill="none" stroke-dasharray="1.05 1.85"/>
<path d="M700.89 665.3 L703.28 655.57 L705.7 645.85 L708.14 636.12 L710.6 626.4 L713.08 616.67 L715.58 606.94 L718.1 597.22 L720.65 587.49 L723.21 577.77 L725.8 568.04 L728.41 558.31 L731.04 548.59 L733.68 538.86 L736.35 529.14 L739.04 519.41 L741.75 509.68 L744.48 499.96 L747.22 490.23 L749.99 480.5 L752.78 470.78" stroke="#46a046" stroke-width="1.05" fill="none" stroke-dasharray="1.05 1.85"/>
<path d="M722.83 665.3 L725.12 655.57 L727.43 645.85 L729.77 636.12 L732.12 626.4 L734.5 616.67 L736.9 606.94 L739.33 597.22 L741.77 587.49 L744.24 577.77 L746.73 568.04 L749.24 558.31 L751.77 548.59 L754.32 538.86 L756.89 529.14 L759.49 519.41 L762.1 509.68 L764.74 499.96 L767.39 490.23 L770.07 480.5 L772.76 470.78" stroke="#46a046" stroke-width="1.05" fill="none" stroke-dasharray="1.05 1.85"/>
</g>
<text x="434.9" y="468.2" font-size="8.2" text-anchor="middle" fill="#55a455" textLength="5.09" lengthAdjust="spacingAndGlyphs" stroke="#55a455" stroke-width="0.18">1</text>
<text x="491.23" y="468.2" font-size="8.2" text-anchor="middle" fill="#55a455" textLength="5.09" lengthAdjust="spacingAndGlyphs" stroke="#55a455" stroke-width="0.18">2</text>
<text x="551.67" y="468.2" font-size="8.2" text-anchor="middle" fill="#55a455" textLength="5.09" lengthAdjust="spacingAndGlyphs" stroke="#55a455" stroke-width="0.18">4</text>
<text x="589.05" y="468.2" font-size="8.2" text-anchor="middle" fill="#55a455" textLength="5.09" lengthAdjust="spacingAndGlyphs" stroke="#55a455" stroke-width="0.18">6</text>
<text x="616.52" y="468.2" font-size="8.2" text-anchor="middle" fill="#55a455" textLength="5.09" lengthAdjust="spacingAndGlyphs" stroke="#55a455" stroke-width="0.18">8</text>
<text x="638.37" y="468.2" font-size="8.2" text-anchor="middle" fill="#55a455" textLength="10.18" lengthAdjust="spacingAndGlyphs" stroke="#55a455" stroke-width="0.18">10</text>
<text x="664.68" y="468.2" font-size="8.2" text-anchor="middle" fill="#55a455" textLength="10.18" lengthAdjust="spacingAndGlyphs" stroke="#55a455" stroke-width="0.18">13</text>
<text x="685.97" y="468.2" font-size="8.2" text-anchor="middle" fill="#55a455" textLength="10.18" lengthAdjust="spacingAndGlyphs" stroke="#55a455" stroke-width="0.18">16</text>
<text x="709.29" y="468.2" font-size="8.2" text-anchor="middle" fill="#55a455" textLength="10.18" lengthAdjust="spacingAndGlyphs" stroke="#55a455" stroke-width="0.18">20</text>
<text x="728.67" y="468.2" font-size="8.2" text-anchor="middle" fill="#55a455" textLength="10.18" lengthAdjust="spacingAndGlyphs" stroke="#55a455" stroke-width="0.18">24</text>
<text x="752.78" y="468.2" font-size="8.2" text-anchor="middle" fill="#55a455" textLength="10.18" lengthAdjust="spacingAndGlyphs" stroke="#55a455" stroke-width="0.18">30</text>
<text x="772.76" y="468.2" font-size="8.2" text-anchor="middle" fill="#55a455" textLength="10.18" lengthAdjust="spacingAndGlyphs" stroke="#55a455" stroke-width="0.18">36</text>
<g clip-path="url(#ca)" stroke-linejoin="round">
<path d="M488.8 49.3 L475 104 L461 155.2 L439.3 195.6 L417 230.1 L404 260.6 L377.7 288.9 L353.8 312.9 L342.8 335.7 L342.2 353.1 L339.3 376.4 L331.5 393.9 L328.6 411.6 L330.5 427.2 L334.8 443.1 L343.5 464 L354.2 485.4 L363.9 504.8 L368.7 522.2 L371.2 539.7 L372.1 548.7 L370.1 561.3 L367.6 575.9 L367.8 584.6 L371.1 594.3 L374.6 602.1 L374.6 613.7 L375.9 625.4 L379.8 637 L384.7 645.7 L390.9 651.5" stroke="#0000ff" stroke-width="1.3" fill="none"/>
<path d="M295.4 49.3 L264.6 107.9 L238.8 155.2 L231.4 195.6 L227.5 230.1 L229.1 260.6 L198.8 288.4 L200 313.4 L188.3 331.4 L170 352 L188.3 369 L230.4 394.3 L243.1 404.5 L249.4 411.6 L254.6 427.2 L254.3 443.1 L257.2 456.6 L284.3 479.5 L296.9 495.1 L304.3 506.3 L296 517.4 L283.4 528 L264.9 538.1 L260.5 548.7 L296.4 562.3 L337.1 575.9 L348.4 585 L352.7 596.3 L356.5 608.9 L348.4 617 L348.8 623.8 L355.6 630.2 L362.4 643.8 L370.1 651.9" stroke="#049804" stroke-width="3.25" fill="none"/>
<path d="M491.2 49.3 L477.6 104 L464 155.2 L442.8 195.6 L420.5 230.1 L406.9 260.6 L379.8 289.3 L355.6 313.4 L344.5 335.7 L343.9 353.1 L341 376.4 L333.3 393.9 L330.9 411.6 L332.2 427.2 L336.7 443.1 L346.4 464 L356.1 481.5 L365.8 498.9 L373.6 516.4 L379.4 533.9 L381.8 541 L382.7 548.7 L379.8 558.4 L371.1 576.9 L371.1 585.6 L376.9 600.1 L378.3 608.9 L379.8 624.4 L382.7 635.1 L388.6 644.8 L397.3 651.9" stroke="#ff0000" stroke-width="3.2" fill="none"/>
</g>
<rect x="361.4" y="651.6" width="15.6" height="11.2" fill="#fff"/><rect x="385.2" y="651.6" width="22.6" height="11.2" fill="#fff"/>
<text x="361.8" y="661.6" font-size="11.2" text-anchor="start" font-weight="bold" fill="#049804" textLength="14.9" lengthAdjust="spacingAndGlyphs" stroke="#049804" stroke-width="0.18">4F</text>
<text x="385.5" y="661.6" font-size="11.2" text-anchor="start" font-weight="bold" fill="#ff0000" textLength="22" lengthAdjust="spacingAndGlyphs" stroke="#ff0000" stroke-width="0.18">10F</text>
<rect x="188.5" y="49.5" width="638.0" height="616" fill="none" stroke="#000" stroke-width="1.07"/>
<line x1="188.5" y1="665.5" x2="188.5" y2="670.5" stroke="#000" stroke-width="1.07"/>
<line x1="188.5" y1="49.5" x2="188.5" y2="44.5" stroke="#000" stroke-width="1.07"/>
<text y="685" font-size="14.8" stroke="#000" stroke-width="0.18"><tspan x="174.04" textLength="10.04" lengthAdjust="spacingAndGlyphs">−</tspan><tspan x="185.13" textLength="17.18" lengthAdjust="spacingAndGlyphs">40</tspan></text>
<line x1="259.39" y1="665.5" x2="259.39" y2="670.5" stroke="#000" stroke-width="1.07"/>
<line x1="259.39" y1="49.5" x2="259.39" y2="44.5" stroke="#000" stroke-width="1.07"/>
<text y="685" font-size="14.8" stroke="#000" stroke-width="0.18"><tspan x="244.93" textLength="10.04" lengthAdjust="spacingAndGlyphs">−</tspan><tspan x="256.02" textLength="17.18" lengthAdjust="spacingAndGlyphs">30</tspan></text>
<line x1="330.28" y1="665.5" x2="330.28" y2="670.5" stroke="#000" stroke-width="1.07"/>
<line x1="330.28" y1="49.5" x2="330.28" y2="44.5" stroke="#000" stroke-width="1.07"/>
<text y="685" font-size="14.8" stroke="#000" stroke-width="0.18"><tspan x="315.82" textLength="10.04" lengthAdjust="spacingAndGlyphs">−</tspan><tspan x="326.91" textLength="17.18" lengthAdjust="spacingAndGlyphs">20</tspan></text>
<line x1="401.17" y1="665.5" x2="401.17" y2="670.5" stroke="#000" stroke-width="1.07"/>
<line x1="401.17" y1="49.5" x2="401.17" y2="44.5" stroke="#000" stroke-width="1.07"/>
<text y="685" font-size="14.8" stroke="#000" stroke-width="0.18"><tspan x="386.71" textLength="10.04" lengthAdjust="spacingAndGlyphs">−</tspan><tspan x="397.8" textLength="17.18" lengthAdjust="spacingAndGlyphs">10</tspan></text>
<line x1="472.06" y1="665.5" x2="472.06" y2="670.5" stroke="#000" stroke-width="1.07"/>
<line x1="472.06" y1="49.5" x2="472.06" y2="44.5" stroke="#000" stroke-width="1.07"/>
<text y="685" font-size="14.8" stroke="#000" stroke-width="0.18"><tspan x="467.29" textLength="8.34" lengthAdjust="spacingAndGlyphs">0</tspan></text>
<line x1="542.94" y1="665.5" x2="542.94" y2="670.5" stroke="#000" stroke-width="1.07"/>
<line x1="542.94" y1="49.5" x2="542.94" y2="44.5" stroke="#000" stroke-width="1.07"/>
<text y="685" font-size="14.8" stroke="#000" stroke-width="0.18"><tspan x="533.76" textLength="17.18" lengthAdjust="spacingAndGlyphs">10</tspan></text>
<line x1="613.83" y1="665.5" x2="613.83" y2="670.5" stroke="#000" stroke-width="1.07"/>
<line x1="613.83" y1="49.5" x2="613.83" y2="44.5" stroke="#000" stroke-width="1.07"/>
<text y="685" font-size="14.8" stroke="#000" stroke-width="0.18"><tspan x="604.65" textLength="17.18" lengthAdjust="spacingAndGlyphs">20</tspan></text>
<line x1="684.72" y1="665.5" x2="684.72" y2="670.5" stroke="#000" stroke-width="1.07"/>
<line x1="684.72" y1="49.5" x2="684.72" y2="44.5" stroke="#000" stroke-width="1.07"/>
<text y="685" font-size="14.8" stroke="#000" stroke-width="0.18"><tspan x="675.53" textLength="17.18" lengthAdjust="spacingAndGlyphs">30</tspan></text>
<line x1="755.61" y1="665.5" x2="755.61" y2="670.5" stroke="#000" stroke-width="1.07"/>
<line x1="755.61" y1="49.5" x2="755.61" y2="44.5" stroke="#000" stroke-width="1.07"/>
<text y="685" font-size="14.8" stroke="#000" stroke-width="0.18"><tspan x="746.42" textLength="17.18" lengthAdjust="spacingAndGlyphs">40</tspan></text>
<line x1="826.5" y1="665.5" x2="826.5" y2="670.5" stroke="#000" stroke-width="1.07"/>
<line x1="826.5" y1="49.5" x2="826.5" y2="44.5" stroke="#000" stroke-width="1.07"/>
<text y="685" font-size="14.8" stroke="#000" stroke-width="0.18"><tspan x="817.31" textLength="17.18" lengthAdjust="spacingAndGlyphs">50</tspan></text>
<line x1="183.8" y1="49.5" x2="188.5" y2="49.5" stroke="#000" stroke-width="1.07"/>
<line x1="826.5" y1="49.5" x2="831.2" y2="49.5" stroke="#000" stroke-width="1.07"/>
<text y="54.7" font-size="14.8" stroke="#000" stroke-width="0.18"><tspan x="151.64" textLength="26.01" lengthAdjust="spacingAndGlyphs">100</tspan></text>
<line x1="183.8" y1="155.5" x2="188.5" y2="155.5" stroke="#000" stroke-width="1.07"/>
<line x1="826.5" y1="155.5" x2="831.2" y2="155.5" stroke="#000" stroke-width="1.07"/>
<line x1="183.8" y1="230.5" x2="188.5" y2="230.5" stroke="#000" stroke-width="1.07"/>
<line x1="826.5" y1="230.5" x2="831.2" y2="230.5" stroke="#000" stroke-width="1.07"/>
<text y="235.7" font-size="14.8" stroke="#000" stroke-width="0.18"><tspan x="151.64" textLength="26.01" lengthAdjust="spacingAndGlyphs">200</tspan></text>
<line x1="183.8" y1="289.5" x2="188.5" y2="289.5" stroke="#000" stroke-width="1.07"/>
<line x1="826.5" y1="289.5" x2="831.2" y2="289.5" stroke="#000" stroke-width="1.07"/>
<line x1="183.8" y1="336.5" x2="188.5" y2="336.5" stroke="#000" stroke-width="1.07"/>
<line x1="826.5" y1="336.5" x2="831.2" y2="336.5" stroke="#000" stroke-width="1.07"/>
<text y="341.7" font-size="14.8" stroke="#000" stroke-width="0.18"><tspan x="151.64" textLength="26.01" lengthAdjust="spacingAndGlyphs">300</tspan></text>
<line x1="183.8" y1="377.5" x2="188.5" y2="377.5" stroke="#000" stroke-width="1.07"/>
<line x1="826.5" y1="377.5" x2="831.2" y2="377.5" stroke="#000" stroke-width="1.07"/>
<line x1="183.8" y1="412.5" x2="188.5" y2="412.5" stroke="#000" stroke-width="1.07"/>
<line x1="826.5" y1="412.5" x2="831.2" y2="412.5" stroke="#000" stroke-width="1.07"/>
<text y="417.7" font-size="14.8" stroke="#000" stroke-width="0.18"><tspan x="151.64" textLength="26.01" lengthAdjust="spacingAndGlyphs">400</tspan></text>
<line x1="183.8" y1="443.5" x2="188.5" y2="443.5" stroke="#000" stroke-width="1.07"/>
<line x1="826.5" y1="443.5" x2="831.2" y2="443.5" stroke="#000" stroke-width="1.07"/>
<line x1="183.8" y1="470.5" x2="188.5" y2="470.5" stroke="#000" stroke-width="1.07"/>
<line x1="826.5" y1="470.5" x2="831.2" y2="470.5" stroke="#000" stroke-width="1.07"/>
<text y="475.7" font-size="14.8" stroke="#000" stroke-width="0.18"><tspan x="151.64" textLength="26.01" lengthAdjust="spacingAndGlyphs">500</tspan></text>
<line x1="183.8" y1="495.5" x2="188.5" y2="495.5" stroke="#000" stroke-width="1.07"/>
<line x1="826.5" y1="495.5" x2="831.2" y2="495.5" stroke="#000" stroke-width="1.07"/>
<line x1="183.8" y1="518.5" x2="188.5" y2="518.5" stroke="#000" stroke-width="1.07"/>
<line x1="826.5" y1="518.5" x2="831.2" y2="518.5" stroke="#000" stroke-width="1.07"/>
<text y="523.7" font-size="14.8" stroke="#000" stroke-width="0.18"><tspan x="151.64" textLength="26.01" lengthAdjust="spacingAndGlyphs">600</tspan></text>
<line x1="183.8" y1="539.5" x2="188.5" y2="539.5" stroke="#000" stroke-width="1.07"/>
<line x1="826.5" y1="539.5" x2="831.2" y2="539.5" stroke="#000" stroke-width="1.07"/>
<line x1="183.8" y1="558.5" x2="188.5" y2="558.5" stroke="#000" stroke-width="1.07"/>
<line x1="826.5" y1="558.5" x2="831.2" y2="558.5" stroke="#000" stroke-width="1.07"/>
<text y="563.7" font-size="14.8" stroke="#000" stroke-width="0.18"><tspan x="151.64" textLength="26.01" lengthAdjust="spacingAndGlyphs">700</tspan></text>
<line x1="183.8" y1="576.5" x2="188.5" y2="576.5" stroke="#000" stroke-width="1.07"/>
<line x1="826.5" y1="576.5" x2="831.2" y2="576.5" stroke="#000" stroke-width="1.07"/>
<line x1="183.8" y1="593.5" x2="188.5" y2="593.5" stroke="#000" stroke-width="1.07"/>
<line x1="826.5" y1="593.5" x2="831.2" y2="593.5" stroke="#000" stroke-width="1.07"/>
<text y="598.7" font-size="14.8" stroke="#000" stroke-width="0.18"><tspan x="151.64" textLength="26.01" lengthAdjust="spacingAndGlyphs">800</tspan></text>
<line x1="183.8" y1="609.5" x2="188.5" y2="609.5" stroke="#000" stroke-width="1.07"/>
<line x1="826.5" y1="609.5" x2="831.2" y2="609.5" stroke="#000" stroke-width="1.07"/>
<line x1="183.8" y1="624.5" x2="188.5" y2="624.5" stroke="#000" stroke-width="1.07"/>
<line x1="826.5" y1="624.5" x2="831.2" y2="624.5" stroke="#000" stroke-width="1.07"/>
<text y="629.7" font-size="14.8" stroke="#000" stroke-width="0.18"><tspan x="151.64" textLength="26.01" lengthAdjust="spacingAndGlyphs">900</tspan></text>
<line x1="183.8" y1="638.5" x2="188.5" y2="638.5" stroke="#000" stroke-width="1.07"/>
<line x1="826.5" y1="638.5" x2="831.2" y2="638.5" stroke="#000" stroke-width="1.07"/>
<line x1="183.8" y1="652.5" x2="188.5" y2="652.5" stroke="#000" stroke-width="1.07"/>
<line x1="826.5" y1="652.5" x2="831.2" y2="652.5" stroke="#000" stroke-width="1.07"/>
<text y="657.7" font-size="14.8" stroke="#000" stroke-width="0.18"><tspan x="142.8" textLength="34.85" lengthAdjust="spacingAndGlyphs">1000</tspan></text>
<line x1="183.8" y1="665.5" x2="188.5" y2="665.5" stroke="#000" stroke-width="1.07"/>
<line x1="826.5" y1="665.5" x2="831.2" y2="665.5" stroke="#000" stroke-width="1.07"/>
<text font-size="16.73" transform="translate(133.5 356.6) rotate(-90)" stroke="#000" stroke-width="0.18" y="0"><tspan x="-58.82" textLength="70.03" lengthAdjust="spacingAndGlyphs">Pressure</tspan> <tspan x="16.42" textLength="42.39" lengthAdjust="spacingAndGlyphs">(hPa)</tspan></text>
<text font-size="16.78" stroke="#000" stroke-width="0.18" y="705.9"><tspan x="435.91" textLength="104.2" lengthAdjust="spacingAndGlyphs">Temperature</tspan> <tspan x="545.34" textLength="32.55" lengthAdjust="spacingAndGlyphs">(°C)</tspan></text>
<text font-size="13.9" font-weight="bold" stroke="#000" stroke-width="0.18" y="39.7"><tspan x="236.85" textLength="43.58" lengthAdjust="spacingAndGlyphs">HRRR</tspan> <tspan x="285.25" textLength="73.64" lengthAdjust="spacingAndGlyphs">Sounding</tspan> <tspan x="363.72" textLength="15.97" lengthAdjust="spacingAndGlyphs">at</tspan> <tspan x="384.51" textLength="43.52" lengthAdjust="spacingAndGlyphs">KDKB</tspan> <tspan x="432.85" textLength="31.92" lengthAdjust="spacingAndGlyphs">Init:</tspan> <tspan x="469.59" textLength="27.33" lengthAdjust="spacingAndGlyphs">14z</tspan> <tspan x="501.74" textLength="24.36" lengthAdjust="spacingAndGlyphs">Jan</tspan> <tspan x="530.92" textLength="19.27" lengthAdjust="spacingAndGlyphs">30</tspan> <tspan x="555.02" textLength="51.03" lengthAdjust="spacingAndGlyphs">[F001]</tspan> <tspan x="610.87" textLength="37.78" lengthAdjust="spacingAndGlyphs">valid</tspan> <tspan x="653.47" textLength="27.33" lengthAdjust="spacingAndGlyphs">15z</tspan> <tspan x="685.63" textLength="24.36" lengthAdjust="spacingAndGlyphs">Jan</tspan> <tspan x="714.81" textLength="19.27" lengthAdjust="spacingAndGlyphs">30</tspan> <tspan x="738.9" textLength="38.55" lengthAdjust="spacingAndGlyphs">2026</tspan></text>
<rect x="42.6" y="63.5" width="128" height="96.8" rx="2.6" fill="#fff" fill-opacity="0.8" stroke="#cccccc" stroke-width="1.07"/>
<line x1="47" y1="72.2" x2="70.4" y2="72.2" stroke="#46a046" stroke-width="1.05" stroke-dasharray="1.05 1.85"/>
<text font-size="11.22" stroke="#000" stroke-width="0.18" y="76.1"><tspan x="78.4" textLength="21.53" lengthAdjust="spacingAndGlyphs">Sat.</tspan> <tspan x="103.43" textLength="22.55" lengthAdjust="spacingAndGlyphs">Mix.</tspan> <tspan x="129.48" textLength="28.24" lengthAdjust="spacingAndGlyphs">Ratio</tspan></text>
<line x1="47" y1="87.8" x2="70.4" y2="87.8" stroke="#d88484" stroke-width="0.75"/>
<text font-size="11.22" stroke="#000" stroke-width="0.18" y="91.7"><tspan x="78.4" textLength="19.5" lengthAdjust="spacingAndGlyphs">Dry</tspan> <tspan x="101.4" textLength="47.88" lengthAdjust="spacingAndGlyphs">Adiabats</tspan></text>
<line x1="47" y1="103.4" x2="70.4" y2="103.4" stroke="#9a9ae6" stroke-width="0.85"/>
<text font-size="11.22" stroke="#000" stroke-width="0.18" y="107.3"><tspan x="78.4" textLength="86.91" lengthAdjust="spacingAndGlyphs">Pseudoadiabats</tspan></text>
<line x1="47" y1="119.1" x2="70.4" y2="119.1" stroke="#0000ff" stroke-width="1.35"/>
<text font-size="11.22" stroke="#000" stroke-width="0.18" y="123"><tspan x="78.4" textLength="45.31" lengthAdjust="spacingAndGlyphs">Wetbulb</tspan></text>
<line x1="47" y1="134.6" x2="70.4" y2="134.6" stroke="#049804" stroke-width="3.3"/>
<text font-size="11.22" stroke="#000" stroke-width="0.18" y="138.5"><tspan x="78.4" textLength="52.29" lengthAdjust="spacingAndGlyphs">Dewpoint</tspan></text>
<line x1="47" y1="150.3" x2="70.4" y2="150.3" stroke="#ff0000" stroke-width="3.3"/>
<text font-size="11.22" stroke="#000" stroke-width="0.18" y="154.2"><tspan x="78.4" textLength="69.68" lengthAdjust="spacingAndGlyphs">Temperature</tspan></text>
<rect x="37.3" y="49.35" width="0.9" height="3" fill="#808080"/>
<rect x="38.2" y="103.94" width="0.9" height="6" fill="#f6e61e"/>
<rect x="38.2" y="151.68" width="0.9" height="6" fill="#f6e61e"/>
<rect x="37.2" y="192.05" width="1" height="6" fill="#808080"/>
<rect x="35.9" y="227.12" width="2.3" height="5.8" fill="#808080"/>
<rect x="35" y="257.87" width="3.2" height="6" fill="#808080"/>
<rect x="34.1" y="285.06" width="4.1" height="6.8" fill="#808080"/>
<rect x="36" y="309.92" width="2.2" height="7" fill="#808080"/>
<rect x="37.2" y="332.7" width="1" height="7" fill="#808080"/>
<rect x="38.2" y="353.67" width="0.9" height="7" fill="#fbe723"/>
<rect x="38.2" y="373.07" width="1.6" height="7" fill="#fbe723"/>
<rect x="38.2" y="391.14" width="1.6" height="7" fill="#fbe723"/>
<rect x="38.2" y="408.14" width="3.6" height="6.8" fill="#fde02a"/>
<rect x="38.2" y="424.02" width="5.7" height="6.8" fill="#fdd225"/>
<rect x="38.2" y="439.09" width="6.8" height="6.6" fill="#fdcc22"/>
<rect x="38.2" y="453.15" width="7.7" height="6.8" fill="#fdc81f"/>
<rect x="38.2" y="467.03" width="7.7" height="5.9" fill="#fdc81f"/>
<rect x="38.2" y="479.86" width="6.8" height="5.8" fill="#fdcc22"/>
<rect x="38.2" y="492.04" width="4.8" height="5.8" fill="#fdd829"/>
<rect x="38.2" y="503.08" width="1.6" height="7" fill="#fbe723"/>
<rect x="37.2" y="514.33" width="1" height="6.8" fill="#808080"/>
<rect x="35.9" y="525.02" width="2.3" height="6.8" fill="#808080"/>
<rect x="34.1" y="535.49" width="4.1" height="6.4" fill="#808080"/>
<rect x="34.1" y="545.07" width="4.1" height="7" fill="#808080"/>
<rect x="35" y="554.69" width="3.2" height="6.8" fill="#808080"/>
<rect x="38.2" y="563.98" width="0.9" height="6.6" fill="#fbe723"/>
<rect x="38.2" y="572.76" width="3.8" height="6.8" fill="#fde02a"/>
<rect x="38.2" y="581.75" width="8.8" height="6" fill="#fdc621"/>
<rect x="38.2" y="589.76" width="11.8" height="6.6" fill="#fdb32b"/>
<rect x="38.2" y="597.82" width="14.8" height="6.6" fill="#fca732"/>
<rect x="38.2" y="605.74" width="16.8" height="6.4" fill="#fb9b3a"/>
<rect x="38.2" y="613.23" width="15.9" height="6.6" fill="#fca036"/>
<rect x="38.2" y="621.11" width="12.9" height="5.6" fill="#fdae2d"/>
<rect x="38.2" y="627.88" width="5.7" height="6.4" fill="#fdd225"/>
<rect x="38.2" y="635.07" width="1.8" height="6" fill="#fbe723"/>
<rect x="35.9" y="641.97" width="2.3" height="5.8" fill="#808080"/>
<line x1="23.5" y1="616.3" x2="98.7" y2="616.3" stroke="#ff0000" stroke-width="3.3" stroke-dasharray="7.6 3.5"/>
<line x1="23.5" y1="651.4" x2="98.7" y2="651.4" stroke="#ff0000" stroke-width="3.3" stroke-dasharray="7.6 3.5"/>
<text x="74" y="610.8" font-size="10.4" text-anchor="start" font-weight="bold" fill="#ff0000" textLength="25.6" lengthAdjust="spacingAndGlyphs" stroke="#ff0000" stroke-width="0.18">DGZ</text>
<text x="74" y="664.1" font-size="10.4" text-anchor="start" font-weight="bold" fill="#ff0000" textLength="25.6" lengthAdjust="spacingAndGlyphs" stroke="#ff0000" stroke-width="0.18">DGZ</text>
<line x1="38.5" y1="665.3" x2="38.5" y2="670.2" stroke="#000" stroke-width="1.07"/>
<text y="681.8" font-size="10.3" stroke="#000" stroke-width="0.18"><tspan x="35.16" textLength="5.68" lengthAdjust="spacingAndGlyphs">0</tspan></text>
<line x1="69.5" y1="665.3" x2="69.5" y2="670.2" stroke="#000" stroke-width="1.07"/>
<text y="681.8" font-size="10.3" stroke="#000" stroke-width="0.18"><tspan x="62.64" textLength="6.55" lengthAdjust="spacingAndGlyphs">−</tspan><tspan x="70.23" textLength="5.68" lengthAdjust="spacingAndGlyphs">1</tspan></text>
<line x1="100.6" y1="665.3" x2="100.6" y2="670.2" stroke="#000" stroke-width="1.07"/>
<text y="681.8" font-size="10.3" stroke="#000" stroke-width="0.18"><tspan x="93.74" textLength="6.55" lengthAdjust="spacingAndGlyphs">−</tspan><tspan x="101.33" textLength="5.68" lengthAdjust="spacingAndGlyphs">2</tspan></text>
<text font-size="13.6" stroke="#000" stroke-width="0.18" y="702.5"><tspan x="23.4" textLength="49.72" lengthAdjust="spacingAndGlyphs">Omega</tspan> <tspan x="77.48" textLength="38.54" lengthAdjust="spacingAndGlyphs">(Pa/s)</tspan></text>
<path d="M859.29 51.57L835.31 45.23M844.3 47.61L843.84 37.23M847.3 48.4L846.84 38.02M850.3 49.19L849.83 38.81" stroke="#000" stroke-width="0.9" fill="none" stroke-linecap="round"/>
<path d="M835.31 45.23 L840.84 36.43 L841.31 46.82Z" fill="#000" stroke="#000" stroke-width="0.9" stroke-linejoin="miter"/>
<path d="M859.38 109.63L835.22 104.05M844.28 106.14L843.49 95.78M847.3 106.84L846.51 96.47M850.32 107.53L849.93 102.35" stroke="#000" stroke-width="0.9" fill="none" stroke-linecap="round"/>
<path d="M835.22 104.05 L840.47 95.08 L841.26 105.44Z" fill="#000" stroke="#000" stroke-width="0.9" stroke-linejoin="miter"/>
<path d="M859.25 157.88L835.35 151.29M844.31 153.76L843.96 143.37M847.3 154.58L847.12 149.39" stroke="#000" stroke-width="0.9" fill="none" stroke-linecap="round"/>
<path d="M835.35 151.29 L840.97 142.55 L841.32 152.94Z" fill="#000" stroke="#000" stroke-width="0.9" stroke-linejoin="miter"/>
<path d="M858.89 199.36L835.71 190.55M844.4 193.85L845.03 183.48" stroke="#000" stroke-width="0.9" fill="none" stroke-linecap="round"/>
<path d="M835.71 190.55 L842.13 182.38 L841.5 192.75Z" fill="#000" stroke="#000" stroke-width="0.9" stroke-linejoin="miter"/>
<path d="M858.8 234.57L835.8 225.28M844.43 228.76L844.85 223.58" stroke="#000" stroke-width="0.9" fill="none" stroke-linecap="round"/>
<path d="M835.8 225.28 L842.39 217.24 L841.55 227.6Z" fill="#000" stroke="#000" stroke-width="0.9" stroke-linejoin="miter"/>
<path d="M859.06 264.7L835.54 256.83M844.36 259.78L844.46 254.59" stroke="#000" stroke-width="0.9" fill="none" stroke-linecap="round"/>
<path d="M835.54 256.83 L841.63 248.41 L841.42 258.8Z" fill="#000" stroke="#000" stroke-width="0.9" stroke-linejoin="miter"/>
<path d="M859.11 292.13L835.49 284.59M844.35 287.42L844.38 282.22" stroke="#000" stroke-width="0.9" fill="none" stroke-linecap="round"/>
<path d="M835.49 284.59 L841.46 276.08 L841.39 286.47Z" fill="#000" stroke="#000" stroke-width="0.9" stroke-linejoin="miter"/>
<path d="M859.35 316.25L835.25 310.38M844.29 312.58L843.63 302.21M847.3 313.32L846.64 302.95" stroke="#000" stroke-width="0.9" fill="none" stroke-linecap="round"/>
<path d="M835.25 310.38 L840.61 301.48 L841.28 311.85Z" fill="#000" stroke="#000" stroke-width="0.9" stroke-linejoin="miter"/>
<path d="M859.58 337.81L835.02 334.4M844.23 335.68L842.52 325.43M847.3 336.1L845.59 325.85M850.37 336.53L849.52 331.4" stroke="#000" stroke-width="0.9" fill="none" stroke-linecap="round"/>
<path d="M835.02 334.4 L839.45 325 L841.16 335.25Z" fill="#000" stroke="#000" stroke-width="0.9" stroke-linejoin="miter"/>
<path d="M859.7 357.37L834.9 356.76M844.2 356.99L841.34 347M847.3 357.07L844.44 347.07M850.4 357.14L848.97 352.15" stroke="#000" stroke-width="0.9" fill="none" stroke-linecap="round"/>
<path d="M834.9 356.76 L838.25 346.92 L841.1 356.91Z" fill="#000" stroke="#000" stroke-width="0.9" stroke-linejoin="miter"/>
<path d="M859.66 377.47L834.94 375.48M844.21 376.22L841.92 366.09M847.3 376.47L845.01 366.34M850.39 376.72L849.24 371.65" stroke="#000" stroke-width="0.9" fill="none" stroke-linecap="round"/>
<path d="M834.94 375.48 L838.83 365.84 L841.12 375.98Z" fill="#000" stroke="#000" stroke-width="0.9" stroke-linejoin="miter"/>
<path d="M859.58 396.27L835.02 392.82M844.23 394.11L842.54 383.85M847.3 394.54L846.46 389.41" stroke="#000" stroke-width="0.9" fill="none" stroke-linecap="round"/>
<path d="M835.02 392.82 L839.47 383.42 L841.16 393.68Z" fill="#000" stroke="#000" stroke-width="0.9" stroke-linejoin="miter"/>
<path d="M859.37 414.27L835.23 408.61M844.28 410.73L843.53 400.37" stroke="#000" stroke-width="0.9" fill="none" stroke-linecap="round"/>
<path d="M835.23 408.61 L840.51 399.66 L841.26 410.03Z" fill="#000" stroke="#000" stroke-width="0.9" stroke-linejoin="miter"/>
<path d="M859.26 445.56L835.34 439.02" stroke="#000" stroke-width="0.9" fill="none" stroke-linecap="round"/>
<path d="M835.34 439.02 L840.95 430.26 L841.32 440.65Z" fill="#000" stroke="#000" stroke-width="0.9" stroke-linejoin="miter"/>
<path d="M859.31 472.98L835.29 466.77M835.29 466.77L834.78 456.39M838.3 467.55L837.78 457.17M841.3 468.33L840.78 457.95M844.3 469.1L843.78 458.72M847.3 469.88L847.04 464.69" stroke="#000" stroke-width="0.9" fill="none" stroke-linecap="round"/>
<path d="M859.2 498.32L835.4 491.36M835.4 491.36L835.21 480.97M838.37 492.23L838.18 481.84M841.35 493.1L841.25 487.9" stroke="#000" stroke-width="0.9" fill="none" stroke-linecap="round"/>
<path d="M858.63 522.67L835.97 512.58M835.97 512.58L837.17 502.26M838.8 513.84L840.01 503.52M841.64 515.1L842.24 509.94" stroke="#000" stroke-width="0.9" fill="none" stroke-linecap="round"/>
<path d="M857.86 545.08L836.74 532.09M836.74 532.09L839.3 522.02M839.38 533.71L841.94 523.64" stroke="#000" stroke-width="0.9" fill="none" stroke-linecap="round"/>
<path d="M858.15 564.01L836.45 551.98M836.45 551.98L838.55 541.8M839.17 553.49L840.22 548.4" stroke="#000" stroke-width="0.9" fill="none" stroke-linecap="round"/>
<path d="M856.98 583.81L837.62 568.31M837.62 568.31L841.41 558.63" stroke="#000" stroke-width="0.9" fill="none" stroke-linecap="round"/>
<path d="M834.9 593.11L859.7 592.81M859.7 592.81L862.92 602.69" stroke="#000" stroke-width="0.9" fill="none" stroke-linecap="round"/>
<path d="M834.9 608.84L859.7 608.84M859.7 608.84L862.8 618.76" stroke="#000" stroke-width="0.9" fill="none" stroke-linecap="round"/>
<path d="M845.06 643.18L849.54 618.79M849.54 618.79L859.86 617.53M848.98 621.84L859.3 620.58" stroke="#000" stroke-width="0.9" fill="none" stroke-linecap="round"/>
<path d="M845.83 663.71L848.77 639.09M848.77 639.09L858.99 637.18" stroke="#000" stroke-width="0.9" fill="none" stroke-linecap="round"/>
<g clip-path="url(#ch)">
<ellipse cx="910.5" cy="128.5" rx="23.22" ry="19.9" fill="none" stroke="#9a9a9a" stroke-width="0.85" stroke-dasharray="0.9 1.9"/>
<ellipse cx="910.5" cy="128.5" rx="46.44" ry="39.8" fill="none" stroke="#9a9a9a" stroke-width="0.85" stroke-dasharray="0.9 1.9"/>
<ellipse cx="910.5" cy="128.5" rx="69.66" ry="59.7" fill="none" stroke="#9a9a9a" stroke-width="0.85" stroke-dasharray="0.9 1.9"/>
<ellipse cx="910.5" cy="128.5" rx="92.88" ry="79.6" fill="none" stroke="#9a9a9a" stroke-width="0.85" stroke-dasharray="0.9 1.9"/>
<ellipse cx="910.5" cy="128.5" rx="116.1" ry="99.5" fill="none" stroke="#9a9a9a" stroke-width="0.85" stroke-dasharray="0.9 1.9"/>
<ellipse cx="910.5" cy="128.5" rx="139.32" ry="119.4" fill="none" stroke="#9a9a9a" stroke-width="0.85" stroke-dasharray="0.9 1.9"/>
<ellipse cx="910.5" cy="128.5" rx="162.54" ry="139.3" fill="none" stroke="#9a9a9a" stroke-width="0.85" stroke-dasharray="0.9 1.9"/>
<ellipse cx="910.5" cy="128.5" rx="185.76" ry="159.2" fill="none" stroke="#9a9a9a" stroke-width="0.85" stroke-dasharray="0.9 1.9"/>
<ellipse cx="910.5" cy="128.5" rx="208.98" ry="179.1" fill="none" stroke="#9a9a9a" stroke-width="0.85" stroke-dasharray="0.9 1.9"/>
<ellipse cx="910.5" cy="128.5" rx="232.2" ry="199" fill="none" stroke="#9a9a9a" stroke-width="0.85" stroke-dasharray="0.9 1.9"/>
<line x1="910.5" y1="49.5" x2="910.5" y2="237.5" stroke="#333" stroke-width="1"/>
<line x1="876.5" y1="128.5" x2="1096.5" y2="128.5" stroke="#333" stroke-width="1"/>
<text x="933.7" y="144.9" font-size="10.4" text-anchor="middle" fill="#888" textLength="11.67" lengthAdjust="spacingAndGlyphs" stroke="#888" stroke-width="0.18">10</text>
<text x="957.05" y="144.9" font-size="10.4" text-anchor="middle" fill="#888" textLength="11.67" lengthAdjust="spacingAndGlyphs" stroke="#888" stroke-width="0.18">20</text>
<text x="980.4" y="144.9" font-size="10.4" text-anchor="middle" fill="#888" textLength="11.67" lengthAdjust="spacingAndGlyphs" stroke="#888" stroke-width="0.18">30</text>
<text x="1003.75" y="144.9" font-size="10.4" text-anchor="middle" fill="#888" textLength="11.67" lengthAdjust="spacingAndGlyphs" stroke="#888" stroke-width="0.18">40</text>
<text x="1027.1" y="144.9" font-size="10.4" text-anchor="middle" fill="#888" textLength="11.67" lengthAdjust="spacingAndGlyphs" stroke="#888" stroke-width="0.18">50</text>
<text x="1050.45" y="144.9" font-size="10.4" text-anchor="middle" fill="#888" textLength="11.67" lengthAdjust="spacingAndGlyphs" stroke="#888" stroke-width="0.18">60</text>
<text x="1073.8" y="144.9" font-size="10.4" text-anchor="middle" fill="#888" textLength="11.67" lengthAdjust="spacingAndGlyphs" stroke="#888" stroke-width="0.18">70</text>
<text x="886.3" y="144.9" font-size="10.4" text-anchor="middle" fill="#888" textLength="11.67" lengthAdjust="spacingAndGlyphs" stroke="#888" stroke-width="0.18">10</text>
<path d="M907 151.4 L905.5 160 L903.1 171.4 L902.4 166 L901.4 159.1 L898.1 148.5 L894 141.1 L887.4 133.1 L881.3 126.8 L888.7 127.5 L900.7 130.4 L910.3 133.8 L927.5 139.1 L940.8 143.4 L945.5 146.9" stroke="#ff0000" stroke-width="2.35" fill="none" stroke-linejoin="round" stroke-linecap="butt"/>
<path d="M945.5 146.9 L949.5 149.5 L956.9 151.8 L966.2 150.5 L976.2 148.1 L984 148.5 L994 148.9 L998 149.1 L1006.7 151.8 L1016.1 153.1 L1027.4 153.8 L1031.7 154.1" stroke="#0b8e0b" stroke-width="2.35" fill="none" stroke-linejoin="round" stroke-linecap="butt"/>
<path d="M1031.7 154.1 L1036.4 155.5 L1046.1 152.9 L1060.2 143.8 L1080.2 134.4 L1090 134.4 L1088.9 138.4 L1086.9 142.4 L1076.2 149.8 L1068.9 155.8 L1064.4 158.1" stroke="#bb08bb" stroke-width="2.35" fill="none" stroke-linejoin="round" stroke-linecap="butt"/>
<path d="M1064.4 158.1 L1060.2 159.1 L1032.4 160.7 L1032.4 172.2" stroke="#1414ff" stroke-width="2.35" fill="none" stroke-linejoin="round" stroke-linecap="butt"/>
<text x="890" y="138.8" font-size="11.6" text-anchor="middle" textLength="6.9" lengthAdjust="spacingAndGlyphs" stroke="#fff" stroke-width="3" paint-order="stroke" stroke-linejoin="round">1</text>
<text x="914.5" y="138" font-size="11.6" text-anchor="middle" textLength="6.9" lengthAdjust="spacingAndGlyphs" stroke="#fff" stroke-width="3" paint-order="stroke" stroke-linejoin="round">2</text>
<text x="945.6" y="150.9" font-size="11.6" text-anchor="middle" textLength="6.9" lengthAdjust="spacingAndGlyphs" stroke="#fff" stroke-width="3" paint-order="stroke" stroke-linejoin="round">3</text>
<text x="1031.7" y="158.1" font-size="11.6" text-anchor="middle" textLength="6.9" lengthAdjust="spacingAndGlyphs" stroke="#fff" stroke-width="3" paint-order="stroke" stroke-linejoin="round">6</text>
<text x="1064.4" y="162.1" font-size="11.6" text-anchor="middle" textLength="6.9" lengthAdjust="spacingAndGlyphs" stroke="#fff" stroke-width="3" paint-order="stroke" stroke-linejoin="round">9</text>
<circle cx="932.4" cy="117.7" r="8.5" fill="#fff" stroke="#000" stroke-width="1.45"/>
<text x="932.4" y="121.3" font-size="10.4" text-anchor="middle" textLength="9.4" lengthAdjust="spacingAndGlyphs" stroke="#000" stroke-width="0.18">LM</text>
<circle cx="930.0" cy="176.2" r="8.5" fill="#fff" stroke="#000" stroke-width="1.45"/>
<text x="930" y="179.8" font-size="10.4" text-anchor="middle" textLength="9.4" lengthAdjust="spacingAndGlyphs" stroke="#000" stroke-width="0.18">RM</text>
</g>
<rect x="876.5" y="49.5" width="220.0" height="188.0" fill="none" stroke="#000" stroke-width="1.07"/>
<text font-size="11.29" stroke="#000" stroke-width="0.18" y="250.7"><tspan x="883.62" textLength="61.31" lengthAdjust="spacingAndGlyphs">Hodograph</tspan> <tspan x="948.45" textLength="30.49" lengthAdjust="spacingAndGlyphs">(wind</tspan> <tspan x="982.46" textLength="10.09" lengthAdjust="spacingAndGlyphs">in</tspan> <tspan x="996.07" textLength="14.27" lengthAdjust="spacingAndGlyphs">kt,</tspan> <tspan x="1013.85" textLength="35.29" lengthAdjust="spacingAndGlyphs">height</tspan> <tspan x="1052.66" textLength="10.09" lengthAdjust="spacingAndGlyphs">in</tspan> <tspan x="1066.26" textLength="21.51" lengthAdjust="spacingAndGlyphs">km)</tspan></text>
<text x="890.5" y="35.8" font-size="16" text-anchor="start" font-weight="bold" fill="#808080" textLength="192.6" lengthAdjust="spacingAndGlyphs" stroke="#808080" stroke-width="0.45">TROPICALTIDBITS.COM</text>
<text x="876.2" y="285.6" font-size="14" text-anchor="start" font-family="Liberation Mono, monospace" textLength="158.84" lengthAdjust="spacingAndGlyphs" xml:space="preserve" stroke="#000" stroke-width="0.2">SRH 0-1km:       10</text>
<text y="285.6" font-size="14.4" font-style="italic"><tspan x="1043.9" textLength="12.9" lengthAdjust="spacingAndGlyphs">m</tspan><tspan x="1057.4" y="280.2" font-size="10.2" font-style="normal" textLength="5.8" lengthAdjust="spacingAndGlyphs">2</tspan><tspan x="1064.2" y="285.6" textLength="7.8" lengthAdjust="spacingAndGlyphs">s</tspan><tspan x="1072.6" y="280.2" font-size="10.2" font-style="normal" textLength="14.2" lengthAdjust="spacingAndGlyphs">−2</tspan></text>
<text x="876.2" y="302.5" font-size="14" text-anchor="start" font-family="Liberation Mono, monospace" textLength="158.84" lengthAdjust="spacingAndGlyphs" xml:space="preserve" stroke="#000" stroke-width="0.2">SRH 0-3km:      150</text>
<text y="302.5" font-size="14.4" font-style="italic"><tspan x="1043.9" textLength="12.9" lengthAdjust="spacingAndGlyphs">m</tspan><tspan x="1057.4" y="297.1" font-size="10.2" font-style="normal" textLength="5.8" lengthAdjust="spacingAndGlyphs">2</tspan><tspan x="1064.2" y="302.5" textLength="7.8" lengthAdjust="spacingAndGlyphs">s</tspan><tspan x="1072.6" y="297.1" font-size="10.2" font-style="normal" textLength="14.2" lengthAdjust="spacingAndGlyphs">−2</tspan></text>
<text x="876.2" y="322" font-size="14" text-anchor="start" font-family="Liberation Mono, monospace" textLength="200.64" lengthAdjust="spacingAndGlyphs" xml:space="preserve" stroke="#000" stroke-width="0.2">SBCAPE:           0 J/kg</text>
<text x="876.2" y="339.5" font-size="14" text-anchor="start" font-family="Liberation Mono, monospace" textLength="200.64" lengthAdjust="spacingAndGlyphs" xml:space="preserve" stroke="#000" stroke-width="0.2">MLCAPE:           0 J/kg</text>
<text x="876.2" y="357" font-size="14" text-anchor="start" font-family="Liberation Mono, monospace" textLength="200.64" lengthAdjust="spacingAndGlyphs" xml:space="preserve" stroke="#000" stroke-width="0.2">MUCAPE:           0 J/kg</text>
<text x="876.2" y="374.5" font-size="14" text-anchor="start" font-family="Liberation Mono, monospace" textLength="200.64" lengthAdjust="spacingAndGlyphs" xml:space="preserve" stroke="#000" stroke-width="0.2">SBCIN:            0 J/kg</text>
<text x="876.2" y="392" font-size="14" text-anchor="start" font-family="Liberation Mono, monospace" textLength="200.64" lengthAdjust="spacingAndGlyphs" xml:space="preserve" stroke="#000" stroke-width="0.2">MLCIN:            0 J/kg</text>
<text x="876.2" y="409.4" font-size="14" text-anchor="start" font-family="Liberation Mono, monospace" fill="#3030d8" textLength="200.64" lengthAdjust="spacingAndGlyphs" xml:space="preserve" stroke="#3030d8" stroke-width="0.2">DCAPE:            5 J/kg</text>
<text x="876.2" y="426.9" font-size="14" text-anchor="start" font-family="Liberation Mono, monospace" fill="#a52a2a" textLength="183.92" lengthAdjust="spacingAndGlyphs" xml:space="preserve" stroke="#a52a2a" stroke-width="0.2">SHR 200-850mb:   68 kt</text>
<text x="876.2" y="444.4" font-size="14" text-anchor="start" font-family="Liberation Mono, monospace" fill="#8b5a14" textLength="175.56" lengthAdjust="spacingAndGlyphs" xml:space="preserve" stroke="#8b5a14" stroke-width="0.2">RH 300-850mb:    36 %</text>
<text x="876.2" y="461.9" font-size="14" text-anchor="start" font-family="Liberation Mono, monospace" textLength="183.92" lengthAdjust="spacingAndGlyphs" xml:space="preserve" stroke="#000" stroke-width="0.2">PWAT:          0.10 in</text>
<g clip-path="url(#ct)">
<path d="M941.3 653.5 L941.3 646.6 L943.5 637.1 L948.2 627.5 L956.4 616 L959.2 608.3 L966 598.7 L978.3 587.7 L989.3 575.4 L1000.2 560.3 L1008.5 546.6 L1015.3 535.7 L1023.5 527.5 L1033.1 520.6 L1044.1 515.7 L1057.8 511 L1071.5 505 L1083 500" stroke="#2c96b2" stroke-width="2.6" fill="none" stroke-linejoin="round"/>
</g>
<rect x="892.5" y="500.5" width="204.0" height="165.0" fill="none" stroke="#000" stroke-width="1.07"/>
<line x1="892.5" y1="521.4" x2="897.9" y2="521.4" stroke="#000" stroke-width="1.07"/>
<text x="902.2" y="525.6" font-size="11.1" text-anchor="start" textLength="20" lengthAdjust="spacingAndGlyphs" stroke="#000" stroke-width="0.18">400</text>
<line x1="892.5" y1="566" x2="897.9" y2="566" stroke="#000" stroke-width="1.07"/>
<text x="902.2" y="570.2" font-size="11.1" text-anchor="start" textLength="20" lengthAdjust="spacingAndGlyphs" stroke="#000" stroke-width="0.18">600</text>
<line x1="892.5" y1="610" x2="897.9" y2="610" stroke="#000" stroke-width="1.07"/>
<text x="902.2" y="614.2" font-size="11.1" text-anchor="start" textLength="20" lengthAdjust="spacingAndGlyphs" stroke="#000" stroke-width="0.18">800</text>
<line x1="892.5" y1="654.3" x2="897.9" y2="654.3" stroke="#000" stroke-width="1.07"/>
<line x1="929.6" y1="665.5" x2="929.6" y2="660.5" stroke="#000" stroke-width="1.07"/>
<text x="929.6" y="656.4" font-size="11.1" text-anchor="middle" textLength="20" lengthAdjust="spacingAndGlyphs" stroke="#000" stroke-width="0.18">260</text>
<line x1="987.5" y1="665.5" x2="987.5" y2="660.5" stroke="#000" stroke-width="1.07"/>
<text x="987.5" y="656.4" font-size="11.1" text-anchor="middle" textLength="20" lengthAdjust="spacingAndGlyphs" stroke="#000" stroke-width="0.18">280</text>
<line x1="1045.4" y1="665.5" x2="1045.4" y2="660.5" stroke="#000" stroke-width="1.07"/>
<text x="1045.4" y="656.4" font-size="11.1" text-anchor="middle" textLength="20" lengthAdjust="spacingAndGlyphs" stroke="#000" stroke-width="0.18">300</text>
<text font-size="11.27" stroke="#000" stroke-width="0.18" y="677.7"><tspan x="905.67" textLength="58.59" lengthAdjust="spacingAndGlyphs">Equivalent</tspan> <tspan x="967.77" textLength="20.87" lengthAdjust="spacingAndGlyphs">Pot.</tspan> <tspan x="992.15" textLength="70" lengthAdjust="spacingAndGlyphs">Temperature</tspan> <tspan x="1065.66" textLength="15.87" lengthAdjust="spacingAndGlyphs">(K)</tspan></text>
<text font-size="11.22" transform="translate(884 582.7) rotate(-90)" stroke="#000" stroke-width="0.18" y="0"><tspan x="-39.45" textLength="46.97" lengthAdjust="spacingAndGlyphs">Pressure</tspan> <tspan x="11.01" textLength="28.43" lengthAdjust="spacingAndGlyphs">(hPa)</tspan></text>
</svg>
</body></html>
